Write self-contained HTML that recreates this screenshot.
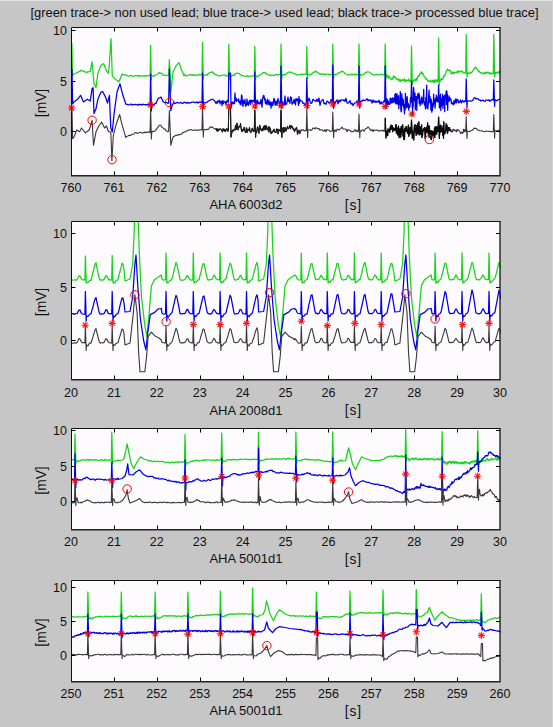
<!DOCTYPE html>
<html><head><meta charset="utf-8"><title>ECG</title>
<style>html,body{margin:0;padding:0;background:#c6c6c6;width:553px;height:727px;overflow:hidden}svg{display:block}text{font-family:"Liberation Sans",sans-serif}</style>
</head><body>
<svg width="553" height="727" viewBox="0 0 553 727" font-family="Liberation Sans, sans-serif" font-size="13" fill="#111"><defs><clipPath id="c0"><rect x="71" y="27" width="430" height="149"/></clipPath><clipPath id="c1"><rect x="71" y="221" width="430" height="159"/></clipPath><clipPath id="c2"><rect x="71" y="428" width="430" height="102"/></clipPath><clipPath id="c3"><rect x="71" y="580" width="430" height="102"/></clipPath></defs>
<rect width="553" height="727" fill="#c6c6c6"/>
<path d="M0 0.5H553" stroke="#e6e6e6" stroke-width="1"/><path d="M552.5 0V727" stroke="#d2d2d2" stroke-width="1"/>
<text transform="translate(284.50 17.10) scale(0.955 1)" text-anchor="middle" font-size="13.5">[green trace-&gt; non used lead; blue trace-&gt; used lead; black trace-&gt; processed blue trace]</text>
<rect x="71" y="27" width="429" height="148" fill="#fefbfe"/>
<g clip-path="url(#c0)" fill="none" stroke-width="1.25" stroke-linejoin="round">
<polyline points="71.0,62.0 71.9,43.4 72.6,76.0 73.2,74.5 75.8,73.3 81.5,70.4 86.3,72.3 90.2,71.3 92.1,61.7 94.0,83.8 96.0,87.6 97.9,73.2 100.8,65.5 103.7,63.6 106.5,71.3 108.5,73.2 109.4,63.6 111.0,38.6 112.3,76.1 115.2,79.0 119.0,81.8 121.9,74.2 125.8,75.1 126.0,75.7 127.0,75.4 128.0,76.0 129.0,76.2 130.0,75.6 131.0,75.4 132.0,75.8 133.0,76.5 134.0,76.3 135.0,75.5 136.0,75.7 137.0,75.5 138.0,75.5 139.0,76.4 140.0,75.6 141.0,76.1 142.0,75.9 143.0,75.6 144.0,76.3 145.0,75.6 146.0,76.2 147.0,75.5 148.0,75.9 149.0,75.7 150.0,75.7 150.1,76.0 150.6,45.3 151.4,80.0 151.7,76.0 152.0,76.3 153.0,75.7 154.0,76.3 155.0,75.2 156.0,75.0 157.0,74.8 158.0,73.7 159.0,72.4 160.0,73.4 161.0,73.0 162.0,73.8 163.0,75.2 164.0,75.1 165.0,75.3 166.0,75.1 167.0,75.2 168.0,75.7 168.6,75.5 169.4,59.7 171.0,91.5 173.0,72.0 176.0,66.0 179.0,62.6 181.5,70.0 184.0,75.8 184.0,74.0 185.0,74.9 186.0,75.8 187.0,75.7 188.0,75.4 189.0,75.1 190.0,74.7 191.0,74.6 192.0,75.7 193.0,74.8 194.0,75.4 195.0,74.8 196.0,75.5 197.0,75.2 198.0,74.8 199.0,74.6 200.0,75.3 201.0,74.5 202.0,74.7 202.0,75.0 202.5,42.4 203.3,79.0 203.6,75.1 204.0,75.5 205.0,75.2 206.0,74.7 207.0,75.3 208.0,74.0 209.0,73.0 210.0,72.5 211.0,72.2 212.0,71.8 213.0,72.5 214.0,73.5 215.0,74.5 216.0,74.5 217.0,75.0 218.0,75.8 219.0,75.9 220.0,75.6 221.0,75.6 222.0,75.5 223.0,75.0 224.0,74.9 225.0,74.9 226.0,76.0 227.0,75.8 228.0,76.1 228.3,75.6 228.8,44.3 229.6,79.6 229.9,75.6 230.0,75.8 231.0,75.6 232.0,75.8 233.0,75.2 234.0,75.6 235.0,73.9 236.0,73.6 237.0,73.2 238.0,73.3 239.0,73.5 240.0,74.2 241.0,75.1 242.0,75.9 243.0,75.5 244.0,76.0 245.0,76.4 246.0,76.4 247.0,75.8 248.0,76.3 249.0,76.4 250.0,76.1 251.0,76.1 252.0,75.8 253.0,76.0 254.0,76.0 254.3,75.8 254.8,46.3 255.6,79.8 255.9,75.8 256.0,75.9 257.0,76.3 258.0,76.1 259.0,75.7 260.0,74.8 261.0,74.5 262.0,73.5 263.0,72.6 264.0,72.9 265.0,72.4 266.0,73.9 267.0,73.8 268.0,75.0 269.0,75.1 270.0,74.9 271.0,75.4 272.0,75.2 273.0,75.3 274.0,75.6 275.0,74.8 276.0,74.4 277.0,74.7 278.0,75.2 279.0,74.6 280.0,74.5 280.5,74.9 281.0,44.0 281.8,78.8 282.1,74.8 283.0,74.7 284.0,75.1 285.0,74.3 286.0,74.3 287.0,73.1 288.0,72.5 289.0,72.2 290.0,72.0 291.0,72.3 292.0,72.4 293.0,73.4 294.0,73.7 295.0,73.8 296.0,74.4 297.0,74.9 298.0,74.9 299.0,74.8 300.0,75.0 301.0,74.2 302.0,74.1 303.0,74.4 304.0,74.2 305.0,74.2 306.0,74.4 306.3,74.5 306.8,46.4 307.6,78.5 307.9,74.5 308.0,74.5 309.0,74.3 310.0,74.8 311.0,74.8 312.0,73.8 313.0,72.7 314.0,71.8 315.0,72.1 316.0,71.0 317.0,72.2 318.0,72.8 319.0,73.2 320.0,74.4 321.0,73.7 322.0,74.0 323.0,74.4 324.0,73.9 325.0,74.9 326.0,74.2 327.0,74.1 328.0,74.0 329.0,74.7 330.0,74.4 331.0,74.7 332.0,74.7 332.3,74.5 332.8,44.0 333.6,78.5 333.9,74.5 334.0,75.0 335.0,74.7 336.0,74.0 337.0,74.2 338.0,73.4 339.0,72.6 340.0,72.3 341.0,71.9 342.0,71.1 343.0,71.6 344.0,72.5 345.0,73.7 346.0,74.0 347.0,74.5 348.0,74.8 349.0,74.4 350.0,74.8 351.0,75.0 352.0,74.0 353.0,75.0 354.0,74.8 355.0,74.1 356.0,74.4 357.0,74.7 358.0,75.0 358.5,74.5 359.0,44.0 359.8,78.5 360.1,74.5 361.0,74.9 362.0,74.8 363.0,74.8 364.0,73.9 365.0,73.5 366.0,72.2 367.0,72.1 368.0,71.9 369.0,72.0 370.0,72.8 371.0,73.0 372.0,74.4 373.0,74.8 374.0,75.0 375.0,74.5 376.0,74.8 377.0,74.3 378.0,75.0 379.0,74.9 380.0,74.3 381.0,74.0 382.0,74.4 383.0,74.6 384.0,74.8 384.7,74.5 385.2,44.0 386.0,78.7 386.3,75.5 386.5,74.4 387.0,77.0 387.5,75.5 388.0,76.3 388.5,78.0 389.0,76.4 389.5,76.7 390.0,78.0 390.5,78.8 391.0,79.2 391.5,78.8 392.0,79.5 392.5,77.8 393.0,78.8 393.5,75.9 394.0,76.2 394.5,77.2 395.0,76.6 395.5,78.2 396.0,78.4 396.5,78.4 397.0,79.8 397.5,79.3 398.0,78.9 398.5,79.3 399.0,80.9 399.5,81.2 400.0,79.2 400.5,81.2 401.0,81.6 401.5,80.3 402.0,80.4 402.5,79.3 403.0,80.3 403.5,80.2 404.0,80.6 404.5,78.8 405.0,81.7 405.5,80.3 406.0,80.0 406.5,81.2 407.0,80.5 407.5,80.3 408.0,80.9 408.5,79.0 409.0,80.5 409.5,80.1 410.0,81.7 410.5,81.7 411.0,79.7 411.0,80.4 411.5,46.0 412.3,84.4 412.6,80.4 413.0,81.4 413.5,81.6 414.0,80.3 414.5,79.8 415.0,79.3 415.5,80.4 416.0,81.1 416.5,78.4 417.0,79.8 417.5,76.9 418.0,76.7 418.5,75.9 419.0,76.3 419.5,74.3 420.0,73.6 420.5,73.8 421.0,71.9 421.5,73.7 422.0,72.1 422.5,73.8 423.0,73.7 423.5,74.4 424.0,76.3 424.5,76.9 425.0,77.5 425.5,78.3 426.0,79.3 426.5,78.6 427.0,79.1 427.5,80.7 428.0,80.9 428.5,80.7 429.0,81.7 429.5,81.1 430.0,81.8 430.5,80.0 431.0,81.5 431.5,81.8 432.0,82.0 432.5,80.3 433.0,80.3 433.5,82.1 434.0,80.0 434.5,82.4 435.0,82.1 435.5,79.8 436.0,80.1 436.5,81.6 437.0,80.2 437.5,79.7 438.0,82.0 438.1,81.0 438.6,38.0 439.4,85.0 439.7,81.0 440.0,80.7 440.5,81.0 441.0,78.5 441.5,78.5 442.0,79.4 442.5,79.5 443.0,79.1 443.5,75.8 444.0,76.2 444.5,76.2 445.0,74.5 445.5,74.2 446.0,71.8 446.5,70.6 447.0,69.9 447.5,69.1 448.0,70.2 448.5,70.3 449.0,70.8 449.5,69.9 450.0,70.4 450.5,70.8 451.0,73.1 451.5,73.8 452.0,73.8 452.5,71.9 453.0,71.9 453.5,73.7 454.0,72.7 454.5,73.2 455.0,72.3 455.5,72.4 456.0,72.4 456.5,72.1 457.0,72.3 457.5,71.0 458.0,72.2 458.5,72.3 459.0,71.0 459.5,71.4 460.0,72.0 460.5,71.3 461.0,71.0 461.5,71.0 462.0,71.8 462.5,71.0 463.0,72.9 463.5,72.8 464.0,72.8 464.5,73.2 465.0,72.9 465.5,72.5 465.7,72.8 466.2,34.6 467.0,77.0 467.3,72.9 467.5,73.5 468.0,72.5 468.5,73.7 469.0,73.4 469.5,73.4 470.0,73.3 470.5,72.3 471.0,73.0 471.5,72.6 472.0,71.8 472.5,71.4 473.0,70.7 473.5,69.4 474.0,69.4 474.5,67.6 475.0,67.9 475.5,68.0 476.0,67.2 476.5,68.2 477.0,69.3 477.5,69.8 478.0,69.7 478.5,71.7 479.0,71.7 479.5,71.5 480.0,72.5 480.5,72.6 481.0,72.7 481.5,72.6 482.0,73.8 482.5,73.2 483.0,73.3 483.5,73.5 484.0,73.9 484.5,72.1 485.0,73.2 485.5,73.5 486.0,72.5 486.5,72.8 487.0,72.1 487.5,72.4 488.0,72.8 488.5,72.2 489.0,72.5 489.5,73.8 490.0,73.1 490.5,73.0 491.0,73.9 491.5,73.1 492.0,74.0 492.5,73.3 493.0,73.6 493.3,73.0 493.8,34.6 494.6,77.0 494.9,73.0 495.0,72.1 495.5,73.8 496.0,72.3 496.5,72.9 497.0,72.3 497.5,72.8 498.0,72.9 498.5,71.7 499.0,73.2 499.5,71.9 500.0,71.7 501.0,70.9" stroke="#18d418"/><polyline points="71.0,86.0 72.0,69.3 72.6,104.0 73.8,102.0 77.7,99.2 80.6,95.3 83.5,102.0 87.3,99.2 90.2,101.1 92.1,88.6 93.1,87.6 94.0,113.6 96.0,108.8 97.9,99.2 100.8,92.4 102.7,91.5 105.6,97.2 107.5,103.0 109.4,95.3 110.8,128.0 112.3,131.8 114.2,112.6 117.1,91.5 120.0,83.8 122.9,95.3 125.8,104.0 126.0,104.1 127.0,104.3 128.0,104.6 129.0,105.0 130.0,104.6 131.0,103.9 132.0,105.1 133.0,104.5 134.0,104.7 135.0,104.3 136.0,104.6 137.0,104.6 138.0,105.2 139.0,104.2 140.0,104.9 141.0,104.3 142.0,105.1 143.0,104.2 144.0,104.5 145.0,104.7 146.0,105.1 147.0,104.3 148.0,104.9 149.0,104.5 150.0,104.7 150.1,105.0 150.6,74.0 151.4,110.9 151.7,104.8 152.0,105.5 153.0,104.6 154.0,105.1 155.0,103.4 156.0,103.5 157.0,101.0 158.0,98.8 159.0,98.0 160.0,97.7 161.0,97.1 162.0,99.2 163.0,101.6 164.0,102.2 165.0,102.7 166.0,102.5 167.0,102.6 168.0,103.4 168.6,103.0 169.4,69.0 170.8,110.7 172.5,104.0 174.0,103.3 174.0,102.0 175.0,103.4 176.0,103.1 177.0,102.4 178.0,102.9 179.0,102.8 180.0,103.0 181.0,102.4 182.0,103.4 183.0,103.3 184.0,102.2 185.0,102.4 186.0,103.2 187.0,102.3 188.0,103.3 189.0,102.6 190.0,102.8 191.0,102.8 192.0,102.1 193.0,102.2 194.0,102.1 195.0,102.7 196.0,102.7 197.0,101.8 198.0,103.0 199.0,102.2 200.0,101.9 201.0,102.2 202.0,103.0 202.0,102.3 202.5,73.0 203.3,108.3 203.6,102.2 204.0,102.4 205.0,102.8 206.0,102.8 207.0,102.2 208.0,101.2 209.0,100.7 210.0,100.3 211.0,99.6 212.0,99.3 213.0,99.4 214.0,100.3 215.0,101.4 215.5,102.4 216.0,103.5 216.5,102.5 217.0,101.6 217.5,103.2 218.0,100.8 218.5,101.7 219.0,100.7 219.5,100.2 220.0,103.9 220.5,101.3 221.0,102.0 221.5,101.3 222.0,105.6 222.5,100.8 223.0,100.7 223.5,103.6 224.0,102.1 224.5,102.1 225.0,101.4 225.5,102.2 226.0,104.8 226.5,101.4 227.0,101.8 227.5,100.3 228.0,100.4 228.3,102.1 228.8,73.0 230.5,73.0 231.0,108.1 232.3,102.0 232.5,102.9 233.0,103.7 233.5,102.2 234.0,102.3 234.5,103.7 235.0,93.0 235.5,100.3 236.0,97.8 236.5,101.5 237.0,99.9 237.5,100.4 238.0,100.5 238.5,98.8 239.0,102.3 239.5,101.0 240.0,103.9 240.5,101.0 241.0,105.0 241.5,94.9 242.0,96.5 242.5,103.3 243.0,106.4 243.5,100.5 244.0,103.5 244.5,102.0 245.0,99.3 245.5,106.2 246.0,105.2 246.5,105.5 247.0,99.0 247.5,104.5 248.0,102.4 248.5,105.5 249.0,102.7 249.5,100.4 250.0,100.8 250.5,104.3 251.0,100.0 251.5,100.5 252.0,102.6 252.5,100.7 253.0,101.1 253.5,100.5 254.0,101.8 254.3,102.2 254.8,72.0 255.6,108.2 255.9,102.2 256.0,101.4 256.5,104.8 257.0,100.2 257.5,100.2 258.0,104.0 258.5,102.2 259.0,102.5 259.5,104.0 260.0,103.8 260.5,102.1 261.0,99.4 261.5,104.2 262.0,107.2 262.5,99.6 263.0,97.4 263.5,95.3 264.0,95.7 264.5,99.9 265.0,98.4 265.5,103.6 266.0,101.0 266.5,104.2 267.0,101.4 267.5,99.1 268.0,104.6 268.5,101.4 269.0,100.3 269.5,104.8 270.0,104.6 270.5,102.2 271.0,108.1 271.5,104.0 272.0,102.0 272.5,105.6 273.0,104.8 273.5,101.0 274.0,98.4 274.5,99.5 275.0,104.6 275.5,105.2 276.0,101.2 276.5,101.8 277.0,105.2 277.5,101.3 278.0,98.6 278.5,100.8 279.0,102.1 279.5,104.0 280.0,106.9 280.5,100.9 280.5,102.4 281.0,66.0 281.8,108.4 282.1,102.4 282.5,101.7 283.0,105.5 283.5,103.9 284.0,105.2 284.5,101.3 285.0,96.0 285.5,104.5 286.0,103.6 286.5,104.2 287.0,102.3 287.5,99.7 288.0,97.1 288.5,101.4 289.0,101.1 289.5,100.0 290.0,103.3 290.5,96.8 291.0,97.6 291.5,97.7 292.0,104.2 292.5,103.7 293.0,103.1 293.5,101.3 294.0,99.5 294.5,103.1 295.0,100.2 295.5,104.9 296.0,98.3 296.5,100.8 297.0,99.5 297.5,98.9 298.0,100.8 298.5,105.3 299.0,96.5 299.5,103.0 300.0,99.7 301.0,100.9 302.0,101.0 303.0,103.5 304.0,103.2 305.0,104.9 306.0,103.8 306.3,102.5 306.8,78.0 307.6,108.5 307.9,102.5 308.0,101.7 309.0,98.2 310.0,101.2 311.0,103.4 312.0,102.7 313.0,99.1 314.0,100.2 315.0,100.7 316.0,101.5 317.0,99.1 318.0,101.6 319.0,98.0 320.0,105.4 321.0,101.4 322.0,100.3 323.0,99.4 324.0,103.8 325.0,103.1 326.0,104.4 327.0,101.1 328.0,101.5 329.0,103.1 330.0,103.2 331.0,99.6 332.0,101.5 332.3,102.3 332.8,65.0 333.6,108.3 333.9,102.3 334.0,101.9 335.0,103.9 336.0,101.1 337.0,99.8 338.0,103.9 339.0,100.1 340.0,101.9 341.0,99.9 342.0,99.9 343.0,100.6 344.0,99.7 345.0,101.4 346.0,98.3 347.0,102.9 348.0,103.2 349.0,102.3 350.0,100.6 351.0,104.1 352.0,103.2 353.0,105.6 354.0,103.8 355.0,102.9 356.0,102.5 357.0,100.8 358.0,104.0 358.5,102.2 359.0,66.0 359.8,108.2 360.1,102.2 361.0,101.0 362.0,101.3 363.0,99.8 364.0,100.4 365.0,100.6 366.0,99.9 367.0,98.7 368.0,100.8 369.0,99.7 370.0,100.6 371.0,100.0 372.0,103.0 373.0,99.9 374.0,102.4 375.0,100.7 376.0,102.5 377.0,101.2 378.0,102.2 379.0,100.2 380.0,104.1 381.0,101.7 382.0,103.9 383.0,102.7 384.0,100.7 384.7,102.0 385.2,66.0 386.0,108.0 386.3,102.0 386.5,98.8 386.8,101.7 387.1,99.0 387.4,105.2 387.7,104.7 388.0,100.9 388.3,101.7 388.6,103.8 388.9,104.5 389.2,103.2 389.5,104.3 389.8,103.2 390.1,98.7 390.4,98.0 390.7,102.8 391.0,103.3 391.3,98.6 391.6,100.3 391.9,102.7 392.2,102.4 392.5,101.6 392.8,97.6 393.1,102.7 393.4,98.4 393.7,99.3 394.0,99.1 394.3,100.3 394.6,101.8 394.9,94.3 395.2,102.8 395.5,93.6 395.8,98.5 396.1,103.8 396.4,102.4 396.7,96.2 397.0,93.5 397.3,104.2 397.6,103.0 397.9,96.7 398.2,102.8 398.5,95.7 398.8,108.8 399.1,100.9 399.4,104.5 399.7,104.5 400.0,98.6 400.3,91.6 400.6,103.6 400.9,110.1 401.2,111.9 401.5,111.0 401.8,93.7 402.1,100.5 402.4,98.2 402.7,105.3 403.0,100.8 403.3,99.5 403.6,107.3 403.9,104.1 404.2,110.3 404.5,113.8 404.8,104.4 405.1,109.9 405.4,93.4 405.7,102.5 406.0,98.2 406.3,108.0 406.6,97.7 406.9,107.3 407.2,96.5 407.5,104.7 407.8,106.9 408.1,106.1 408.4,103.6 408.7,110.2 409.0,105.7 409.3,107.7 409.6,107.7 409.9,106.3 410.2,103.9 410.5,97.5 410.8,97.9 411.0,102.0 411.5,81.0 412.3,108.0 412.6,102.0 412.6,115.2 412.9,101.8 413.2,106.8 413.5,87.5 413.8,89.5 414.1,95.2 414.4,96.4 414.7,101.1 415.0,93.2 415.3,109.8 415.6,103.3 415.9,99.2 416.2,96.3 416.5,101.7 416.8,110.4 417.1,99.4 417.4,98.3 417.7,93.8 418.0,95.1 418.3,98.3 418.6,95.8 418.9,93.1 419.2,103.5 419.5,95.0 419.8,102.1 420.1,105.8 420.4,100.5 420.7,103.0 421.0,101.5 421.3,101.6 421.6,97.1 421.9,104.1 422.2,101.3 422.5,103.0 422.8,101.6 423.1,98.1 423.4,96.4 423.7,89.3 424.0,103.1 424.3,101.6 424.6,105.1 424.9,103.1 425.2,105.4 425.5,109.0 425.8,97.3 426.1,97.3 426.4,97.7 426.7,85.1 427.0,108.0 427.3,104.6 427.6,108.6 427.9,108.9 428.2,104.2 428.5,101.0 428.8,94.0 429.1,90.1 429.4,102.1 429.7,100.3 430.0,96.4 430.3,103.8 430.6,99.3 430.9,110.1 431.2,99.2 431.5,104.4 431.8,112.2 432.1,106.0 432.4,110.5 432.7,104.1 433.0,102.2 433.3,106.6 433.6,94.1 433.9,104.0 434.2,98.5 434.5,103.3 434.8,102.0 435.1,108.1 435.4,102.7 435.7,97.9 436.0,101.5 436.3,95.1 436.6,101.4 436.9,100.3 437.2,99.1 437.5,101.6 437.8,96.8 438.1,102.0 438.6,85.0 439.4,108.0 439.7,102.0 439.9,103.1 440.2,97.4 440.5,94.2 440.8,110.6 441.1,102.7 441.4,105.9 441.7,99.6 442.0,97.8 442.3,104.9 442.6,94.2 442.9,108.5 443.2,98.2 443.5,103.1 443.8,96.4 444.1,104.9 444.4,95.4 444.7,111.7 445.0,99.0 445.3,96.8 445.6,96.0 445.9,94.2 446.2,91.2 446.5,104.5 446.8,90.8 447.1,96.1 447.4,94.4 447.7,110.3 448.0,98.3 448.5,101.3 449.0,95.8 449.5,101.1 450.0,97.9 450.5,98.8 451.0,99.4 451.5,103.7 452.0,103.9 452.5,102.9 453.0,103.8 453.5,104.8 454.0,100.6 454.5,103.8 455.0,102.9 455.5,99.0 456.0,100.9 456.5,102.8 457.0,99.0 457.5,99.8 458.0,99.8 458.5,102.9 459.0,102.7 459.5,101.5 460.0,101.3 460.5,99.9 461.0,102.6 461.5,102.8 462.0,102.0 462.5,100.1 463.0,100.9 464.0,102.1 465.0,100.7 465.7,101.4 466.2,79.0 467.0,107.4 467.3,101.4 468.0,100.8 469.0,101.0 470.0,100.8 471.0,101.2 472.0,100.7 473.0,100.1 474.0,98.0 475.0,97.6 476.0,98.8 477.0,98.6 478.0,98.8 479.0,100.2 480.0,100.0 481.0,101.0 482.0,100.5 483.0,100.0 484.0,101.2 485.0,101.4 486.0,99.9 487.0,100.0 488.0,100.5 489.0,99.8 490.0,101.3 491.0,100.3 492.0,99.5 493.0,99.7 493.3,100.3 493.8,80.0 494.6,106.3 494.9,100.2 495.0,99.7 496.0,100.4 497.0,100.8 498.0,99.6 499.0,99.5 500.0,98.7" stroke="#0000e8"/><polyline points="71.0,118.0 72.0,108.8 72.6,138.6 73.8,137.6 76.7,130.0 79.6,131.8 81.5,128.0 85.4,132.8 89.2,130.0 92.1,120.3 93.5,145.3 96.0,131.8 98.8,126.0 101.7,122.2 104.6,128.0 106.5,126.0 108.5,131.8 110.8,131.8 111.9,160.7 113.3,135.7 116.2,124.2 119.6,114.5 121.9,124.2 125.8,137.6 126.0,136.7 127.0,136.2 128.0,136.0 129.0,135.2 130.0,135.4 131.0,135.3 132.0,134.2 133.0,134.2 134.0,134.0 135.0,132.5 136.0,132.5 137.0,133.2 138.0,133.2 139.0,132.9 140.0,132.3 141.0,132.5 142.0,133.0 143.0,132.9 144.0,132.8 145.0,132.0 146.0,132.7 147.0,132.0 148.0,132.4 149.0,131.6 150.0,132.6 150.1,132.0 150.6,108.8 151.4,138.9 151.7,131.8 152.0,132.0 153.0,131.2 154.0,131.4 155.0,130.9 156.0,130.0 157.0,128.4 158.0,127.2 159.0,125.5 160.0,125.0 161.0,125.4 162.0,127.3 163.0,127.9 164.0,128.9 165.0,129.1 166.0,130.6 167.0,131.2 168.0,131.8 168.6,131.0 169.4,110.7 170.8,145.3 173.0,137.0 176.0,135.3 176.0,135.5 177.0,135.1 178.0,135.3 179.0,134.5 180.0,134.8 181.0,134.0 182.0,134.0 183.0,132.4 184.0,132.2 185.0,131.8 186.0,131.8 187.0,130.6 188.0,130.0 189.0,130.2 190.0,129.8 191.0,129.5 192.0,130.0 193.0,130.5 194.0,130.3 195.0,129.7 196.0,130.3 197.0,130.5 198.0,129.8 199.0,130.2 200.0,129.9 201.0,129.8 202.0,129.8 202.0,130.1 202.5,107.0 203.3,137.1 203.6,130.1 204.0,129.9 205.0,129.5 206.0,129.8 207.0,129.2 208.0,129.6 209.0,128.6 210.0,127.1 211.0,127.5 212.0,126.8 213.0,127.7 214.0,128.6 215.0,128.7 215.5,128.9 216.0,129.5 216.5,128.7 217.0,131.2 217.5,128.8 218.0,131.2 218.5,129.2 219.0,129.5 219.5,129.8 220.0,128.6 220.5,128.9 221.0,129.7 221.5,130.0 222.0,131.4 222.5,131.8 223.0,128.7 223.5,130.3 224.0,128.9 224.5,131.2 225.0,129.6 225.5,131.5 226.0,130.3 226.5,128.9 227.0,128.5 227.5,129.3 228.0,131.4 228.3,130.2 228.8,108.0 230.5,108.0 231.0,137.2 232.3,130.1 232.5,131.5 233.0,130.0 233.5,131.1 234.0,129.3 234.5,129.5 235.0,130.2 235.5,125.2 236.0,129.5 236.5,129.2 237.0,123.0 237.5,125.9 238.0,130.0 238.5,128.5 239.0,126.1 239.5,126.7 240.0,127.0 240.5,123.4 241.0,127.6 241.5,130.7 242.0,131.9 242.5,129.3 243.0,130.3 243.5,130.2 244.0,127.3 244.5,127.6 245.0,131.9 245.5,132.2 246.0,132.0 246.5,127.7 247.0,132.7 247.5,129.3 248.0,129.2 248.5,129.9 249.0,130.7 249.5,127.4 250.0,131.3 250.5,132.4 251.0,132.4 251.5,130.9 252.0,128.5 252.5,128.3 253.0,131.2 253.5,130.1 254.0,131.7 254.3,130.3 254.8,110.0 255.6,137.3 255.9,130.3 256.0,130.5 256.5,133.0 257.0,129.9 257.5,126.8 258.0,128.3 258.5,131.3 259.0,133.3 259.5,125.4 260.0,125.5 260.5,130.0 261.0,128.9 261.5,130.0 262.0,131.0 262.5,128.1 263.0,130.5 263.5,126.6 264.0,126.1 264.5,129.9 265.0,125.3 265.5,129.3 266.0,129.4 266.5,125.8 267.0,129.6 267.5,130.0 268.0,128.9 268.5,126.8 269.0,132.1 269.5,126.9 270.0,128.7 270.5,128.8 271.0,133.7 271.5,132.0 272.0,133.1 272.5,131.6 273.0,130.8 273.5,131.6 274.0,129.0 274.5,132.0 275.0,131.9 275.5,132.1 276.0,132.7 276.5,128.9 277.0,129.6 277.5,129.1 278.0,134.0 278.5,129.4 279.0,130.0 279.5,129.9 280.0,131.4 280.5,131.7 280.5,130.4 281.0,110.0 281.8,137.4 282.1,130.4 282.5,128.3 283.0,127.8 283.5,132.5 284.0,127.4 284.5,132.0 285.0,129.1 285.5,127.6 286.0,131.2 286.5,129.3 287.0,129.2 287.5,126.2 288.0,128.0 288.5,128.8 289.0,128.0 289.5,127.3 290.0,125.2 290.5,128.9 291.0,125.6 291.5,125.9 292.0,127.7 292.5,126.5 293.0,129.5 293.5,129.9 294.0,128.8 294.5,131.7 295.0,130.5 295.5,129.5 296.0,128.2 296.5,127.3 297.0,129.6 297.5,134.4 298.0,132.8 298.5,131.4 299.0,130.0 299.5,133.3 300.0,133.7 301.0,129.7 302.0,130.7 303.0,129.5 304.0,130.7 305.0,131.0 306.0,130.0 306.3,130.5 306.8,109.0 307.6,137.5 307.9,130.5 308.0,130.3 309.0,129.8 310.0,129.7 311.0,130.5 312.0,129.6 313.0,128.1 314.0,128.0 315.0,128.9 316.0,127.5 317.0,128.4 318.0,128.6 319.0,128.5 320.0,130.4 321.0,129.7 322.0,129.7 323.0,130.9 324.0,131.1 325.0,129.5 326.0,131.7 327.0,129.5 328.0,129.9 329.0,130.3 330.0,131.4 331.0,131.3 332.0,131.3 332.3,130.7 332.8,112.0 333.6,137.7 333.9,130.7 334.0,131.7 335.0,129.8 336.0,131.7 337.0,129.3 338.0,129.2 339.0,130.0 340.0,129.2 341.0,128.3 342.0,127.1 343.0,129.0 344.0,129.0 345.0,129.0 346.0,129.3 347.0,131.8 348.0,129.6 349.0,130.1 350.0,130.4 351.0,131.7 352.0,131.6 353.0,131.6 354.0,131.1 355.0,129.6 356.0,131.4 357.0,130.1 358.0,131.9 358.5,130.8 359.0,114.0 359.8,137.8 360.1,130.8 361.0,131.4 362.0,130.2 363.0,129.7 364.0,131.2 365.0,129.5 366.0,128.4 367.0,128.3 368.0,126.8 369.0,128.0 370.0,129.3 371.0,130.6 372.0,129.4 373.0,131.6 374.0,129.9 375.0,130.2 376.0,130.5 377.0,130.1 378.0,130.0 379.0,131.3 380.0,130.7 381.0,130.2 382.0,131.0 383.0,130.1 384.0,131.4 384.7,131.0 385.2,118.0 386.0,138.0 386.3,131.0 386.5,131.6 386.8,131.4 387.1,135.4 387.4,133.7 387.7,135.7 388.0,128.8 388.3,130.3 388.6,130.9 388.9,129.6 389.2,130.0 389.5,129.9 389.8,132.1 390.1,127.2 390.4,129.0 390.7,129.1 391.0,125.0 391.3,129.5 391.6,125.9 391.9,126.6 392.2,125.6 392.5,127.7 392.8,131.8 393.1,127.7 393.4,129.6 393.7,129.0 394.0,130.0 394.3,128.7 394.6,130.5 394.9,128.3 395.2,130.3 395.5,127.3 395.8,125.2 396.1,124.5 396.4,133.2 396.7,129.5 397.0,128.1 397.3,131.0 397.6,134.9 397.9,132.6 398.2,128.2 398.5,126.1 398.8,130.6 399.1,137.7 399.4,133.8 399.7,129.1 400.0,132.6 400.3,128.8 400.6,137.3 400.9,134.8 401.2,126.4 401.5,132.9 401.8,130.0 402.1,130.5 402.4,127.0 402.7,124.9 403.0,136.2 403.3,129.7 403.6,132.4 403.9,139.6 404.2,132.6 404.5,139.5 404.8,128.2 405.1,129.2 405.4,128.5 405.7,131.2 406.0,126.5 406.3,128.2 406.6,126.7 406.9,131.1 407.2,130.0 407.5,133.4 407.8,130.3 408.1,132.3 408.4,125.1 408.7,136.4 409.0,135.1 409.3,129.6 409.6,133.4 409.9,127.5 410.2,133.7 410.5,133.6 410.8,127.6 411.0,131.2 411.5,120.0 412.3,138.2 412.6,131.2 412.6,132.8 412.9,131.9 413.2,136.4 413.5,134.2 413.8,140.0 414.1,130.0 414.4,125.7 414.7,129.4 415.0,124.5 415.3,131.8 415.6,128.1 415.9,131.1 416.2,135.4 416.5,125.6 416.8,134.5 417.1,130.4 417.4,127.3 417.7,123.5 418.0,133.4 418.3,124.9 418.6,131.7 418.9,121.8 419.2,135.0 419.5,134.5 419.8,132.4 420.1,126.5 420.4,131.0 420.7,134.5 421.0,132.0 421.3,133.9 421.6,124.9 421.9,137.5 422.2,130.9 422.5,135.8 422.8,131.9 423.1,131.1 423.4,128.8 423.7,130.3 424.0,130.2 424.3,128.7 424.6,127.5 424.9,131.6 425.2,138.7 425.5,137.3 425.8,129.1 426.1,128.5 426.4,127.3 426.7,132.2 427.0,129.0 427.3,128.6 427.6,122.9 427.9,130.9 428.2,133.8 428.5,129.1 428.8,125.8 429.1,137.3 429.4,126.2 429.7,134.8 430.0,131.2 430.3,133.3 430.6,130.6 430.9,139.0 431.2,132.0 431.5,139.6 431.8,130.8 432.1,135.1 432.4,133.4 432.7,135.7 433.0,131.3 433.3,131.7 433.6,131.8 433.9,131.6 434.2,137.2 434.5,127.8 434.8,137.4 435.1,127.8 435.4,126.6 435.7,128.1 436.0,134.2 436.3,126.8 436.6,134.1 436.9,131.4 437.2,128.6 437.5,131.4 437.8,126.3 438.1,131.4 438.6,117.0 439.4,138.4 439.7,131.4 439.9,126.2 440.2,132.6 440.5,125.0 440.8,130.8 441.1,125.9 441.4,131.5 441.7,130.6 442.0,131.1 442.3,128.4 442.6,134.1 442.9,135.5 443.2,125.6 443.5,138.5 443.8,121.8 444.1,130.9 444.4,134.0 444.7,133.0 445.0,133.1 445.3,131.7 445.6,132.3 445.9,127.5 446.2,123.7 446.5,129.9 446.8,127.4 447.1,125.4 447.4,133.2 447.7,132.7 448.0,128.7 448.5,127.7 449.0,130.4 449.5,127.6 450.0,130.3 450.5,129.8 451.0,131.3 451.5,131.5 452.0,132.2 452.5,129.7 453.0,131.2 453.5,129.3 454.0,129.6 454.5,129.9 455.0,130.6 455.5,130.3 456.0,131.2 456.5,131.9 457.0,129.3 457.5,130.7 458.0,129.7 458.5,130.2 459.0,130.6 459.5,131.3 460.0,131.5 460.5,133.7 461.0,132.9 461.5,132.2 462.0,132.4 462.5,133.4 463.0,132.6 463.5,129.2 464.0,132.0 464.5,129.6 465.0,131.3 465.7,131.4 466.2,116.7 467.0,138.4 467.3,131.3 468.0,131.3 469.0,131.2 470.0,131.7 471.0,130.5 472.0,130.5 473.0,129.7 474.0,128.1 475.0,128.6 476.0,128.2 477.0,129.4 478.0,130.2 479.0,130.3 480.0,130.8 481.0,131.0 482.0,130.6 483.0,131.3 484.0,131.5 485.0,131.8 486.0,131.1 487.0,131.2 488.0,131.3 489.0,131.5 490.0,131.3 491.0,131.7 492.0,131.5 493.0,131.7 493.3,131.1 493.8,114.5 494.6,138.1 494.9,131.0 495.0,131.1 496.0,130.6 497.0,131.0 498.0,130.8 499.0,130.1 500.0,129.7" stroke="#383838" stroke-width="1.1"/><polyline points="215.0,128.7 215.5,128.9 216.0,129.5 216.5,128.7 217.0,131.2 217.5,128.8 218.0,131.2 218.5,129.2 219.0,129.5 219.5,129.8 220.0,128.6 220.5,128.9 221.0,129.7 221.5,130.0 222.0,131.4 222.5,131.8 223.0,128.7 223.5,130.3 224.0,128.9 224.5,131.2 225.0,129.6 225.5,131.5 226.0,130.3 226.5,128.9 227.0,128.5 227.5,129.3 228.0,131.4 228.3,130.2 228.8,108.0 230.5,108.0 231.0,137.2 232.3,130.1 232.5,131.5 233.0,130.0 233.5,131.1 234.0,129.3 234.5,129.5 235.0,130.2 235.5,125.2 236.0,129.5 236.5,129.2 237.0,123.0 237.5,125.9 238.0,130.0 238.5,128.5 239.0,126.1 239.5,126.7 240.0,127.0 240.5,123.4 241.0,127.6 241.5,130.7 242.0,131.9 242.5,129.3 243.0,130.3 243.5,130.2 244.0,127.3 244.5,127.6 245.0,131.9 245.5,132.2 246.0,132.0 246.5,127.7 247.0,132.7 247.5,129.3 248.0,129.2 248.5,129.9 249.0,130.7 249.5,127.4 250.0,131.3 250.5,132.4 251.0,132.4 251.5,130.9 252.0,128.5 252.5,128.3 253.0,131.2 253.5,130.1 254.0,131.7 254.3,130.3 254.8,110.0 255.6,137.3 255.9,130.3 256.0,130.5 256.5,133.0 257.0,129.9 257.5,126.8 258.0,128.3 258.5,131.3 259.0,133.3 259.5,125.4 260.0,125.5 260.5,130.0 261.0,128.9 261.5,130.0 262.0,131.0 262.5,128.1 263.0,130.5 263.5,126.6 264.0,126.1 264.5,129.9 265.0,125.3 265.5,129.3 266.0,129.4 266.5,125.8 267.0,129.6 267.5,130.0 268.0,128.9 268.5,126.8 269.0,132.1 269.5,126.9 270.0,128.7 270.5,128.8 271.0,133.7 271.5,132.0 272.0,133.1 272.5,131.6 273.0,130.8 273.5,131.6 274.0,129.0 274.5,132.0 275.0,131.9 275.5,132.1 276.0,132.7 276.5,128.9 277.0,129.6 277.5,129.1 278.0,134.0 278.5,129.4 279.0,130.0 279.5,129.9 280.0,131.4 280.5,131.7 280.5,130.4 281.0,110.0 281.8,137.4 282.1,130.4 282.5,128.3 283.0,127.8 283.5,132.5 284.0,127.4 284.5,132.0 285.0,129.1 285.5,127.6 286.0,131.2 286.5,129.3 287.0,129.2 287.5,126.2 288.0,128.0 288.5,128.8 289.0,128.0 289.5,127.3 290.0,125.2 290.5,128.9 291.0,125.6 291.5,125.9 292.0,127.7 292.5,126.5 293.0,129.5 293.5,129.9 294.0,128.8 294.5,131.7 295.0,130.5 295.5,129.5 296.0,128.2 296.5,127.3 297.0,129.6 297.5,134.4 298.0,132.8 298.5,131.4 299.0,130.0 299.5,133.3 300.0,133.7" stroke="#1a1a1a" stroke-width="1.0"/><polyline points="385.2,118.0 386.0,138.0 386.3,131.0 386.5,131.6 386.8,131.4 387.1,135.4 387.4,133.7 387.7,135.7 388.0,128.8 388.3,130.3 388.6,130.9 388.9,129.6 389.2,130.0 389.5,129.9 389.8,132.1 390.1,127.2 390.4,129.0 390.7,129.1 391.0,125.0 391.3,129.5 391.6,125.9 391.9,126.6 392.2,125.6 392.5,127.7 392.8,131.8 393.1,127.7 393.4,129.6 393.7,129.0 394.0,130.0 394.3,128.7 394.6,130.5 394.9,128.3 395.2,130.3 395.5,127.3 395.8,125.2 396.1,124.5 396.4,133.2 396.7,129.5 397.0,128.1 397.3,131.0 397.6,134.9 397.9,132.6 398.2,128.2 398.5,126.1 398.8,130.6 399.1,137.7 399.4,133.8 399.7,129.1 400.0,132.6 400.3,128.8 400.6,137.3 400.9,134.8 401.2,126.4 401.5,132.9 401.8,130.0 402.1,130.5 402.4,127.0 402.7,124.9 403.0,136.2 403.3,129.7 403.6,132.4 403.9,139.6 404.2,132.6 404.5,139.5 404.8,128.2 405.1,129.2 405.4,128.5 405.7,131.2 406.0,126.5 406.3,128.2 406.6,126.7 406.9,131.1 407.2,130.0 407.5,133.4 407.8,130.3 408.1,132.3 408.4,125.1 408.7,136.4 409.0,135.1 409.3,129.6 409.6,133.4 409.9,127.5 410.2,133.7 410.5,133.6 410.8,127.6 411.0,131.2 411.5,120.0 412.3,138.2 412.6,131.2 412.6,132.8 412.9,131.9 413.2,136.4 413.5,134.2 413.8,140.0 414.1,130.0 414.4,125.7 414.7,129.4 415.0,124.5 415.3,131.8 415.6,128.1 415.9,131.1 416.2,135.4 416.5,125.6 416.8,134.5 417.1,130.4 417.4,127.3 417.7,123.5 418.0,133.4 418.3,124.9 418.6,131.7 418.9,121.8 419.2,135.0 419.5,134.5 419.8,132.4 420.1,126.5 420.4,131.0 420.7,134.5 421.0,132.0 421.3,133.9 421.6,124.9 421.9,137.5 422.2,130.9 422.5,135.8 422.8,131.9 423.1,131.1 423.4,128.8 423.7,130.3 424.0,130.2 424.3,128.7 424.6,127.5 424.9,131.6 425.2,138.7 425.5,137.3 425.8,129.1 426.1,128.5 426.4,127.3 426.7,132.2 427.0,129.0 427.3,128.6 427.6,122.9 427.9,130.9 428.2,133.8 428.5,129.1 428.8,125.8 429.1,137.3 429.4,126.2 429.7,134.8 430.0,131.2 430.3,133.3 430.6,130.6 430.9,139.0 431.2,132.0 431.5,139.6 431.8,130.8 432.1,135.1 432.4,133.4 432.7,135.7 433.0,131.3 433.3,131.7 433.6,131.8 433.9,131.6 434.2,137.2 434.5,127.8 434.8,137.4 435.1,127.8 435.4,126.6 435.7,128.1 436.0,134.2 436.3,126.8 436.6,134.1 436.9,131.4 437.2,128.6 437.5,131.4 437.8,126.3 438.1,131.4 438.6,117.0 439.4,138.4 439.7,131.4 439.9,126.2 440.2,132.6 440.5,125.0 440.8,130.8 441.1,125.9 441.4,131.5 441.7,130.6 442.0,131.1 442.3,128.4 442.6,134.1 442.9,135.5 443.2,125.6 443.5,138.5 443.8,121.8 444.1,130.9 444.4,134.0 444.7,133.0 445.0,133.1 445.3,131.7 445.6,132.3 445.9,127.5 446.2,123.7 446.5,129.9 446.8,127.4 447.1,125.4 447.4,133.2 447.7,132.7 448.0,128.7 448.5,127.7 449.0,130.4 449.5,127.6 450.0,130.3 450.5,129.8 451.0,131.3 451.5,131.5" stroke="#0a0a0a" stroke-width="1.2"/>
</g>
<path d="M71.5 175.7V27.5H500.6" fill="none" stroke="#111" stroke-width="1"/>
<path d="M500.0 27.0V175.7H71.0" fill="none" stroke="#222" stroke-width="1.4"/>
<path d="M114.5 175.5v-4M114.5 27.5v4M157.5 175.5v-4M157.5 27.5v4M200.5 175.5v-4M200.5 27.5v4M243.5 175.5v-4M243.5 27.5v4M286.5 175.5v-4M286.5 27.5v4M328.5 175.5v-4M328.5 27.5v4M371.5 175.5v-4M371.5 27.5v4M414.5 175.5v-4M414.5 27.5v4M457.5 175.5v-4M457.5 27.5v4M71.5 30.5h4M500.0 30.5h-4M71.5 81.5h4M500.0 81.5h-4M71.5 131.5h4M500.0 131.5h-4" stroke="#000" stroke-width="1" fill="none"/>
<g fill="none"><path d="M68.1 108.0h7.2M71.7 104.4v7.2M69.2 105.5l5.0 5.0M69.2 110.5l5.0 -5.0M147.0 105.0h7.2M150.6 101.4v7.2M148.1 102.5l5.0 5.0M148.1 107.5l5.0 -5.0M198.9 106.5h7.2M202.5 102.9v7.2M200.0 104.0l5.0 5.0M200.0 109.0l5.0 -5.0M225.2 106.0h7.2M228.8 102.4v7.2M226.3 103.5l5.0 5.0M226.3 108.5l5.0 -5.0M251.2 106.0h7.2M254.8 102.4v7.2M252.3 103.5l5.0 5.0M252.3 108.5l5.0 -5.0M277.4 105.6h7.2M281.0 102.0v7.2M278.5 103.1l5.0 5.0M278.5 108.1l5.0 -5.0M303.2 105.5h7.2M306.8 101.9v7.2M304.3 103.0l5.0 5.0M304.3 108.0l5.0 -5.0M329.2 104.0h7.2M332.8 100.4v7.2M330.3 101.5l5.0 5.0M330.3 106.5l5.0 -5.0M355.4 104.0h7.2M359.0 100.4v7.2M356.5 101.5l5.0 5.0M356.5 106.5l5.0 -5.0M381.6 106.5h7.2M385.2 102.9v7.2M382.7 104.0l5.0 5.0M382.7 109.0l5.0 -5.0M408.4 114.0h7.2M412.0 110.4v7.2M409.5 111.5l5.0 5.0M409.5 116.5l5.0 -5.0M462.7 111.4h7.2M466.3 107.8v7.2M463.8 108.9l5.0 5.0M463.8 113.9l5.0 -5.0" stroke="#ff0000" stroke-width="1.1" opacity="0.9"/><circle cx="92.1" cy="120.3" r="4.2" stroke="#ff0000" stroke-width="1"/><circle cx="112.0" cy="159.7" r="4.2" stroke="#ff0000" stroke-width="1"/><circle cx="169.4" cy="102.5" r="4.2" stroke="#ff0000" stroke-width="1"/><circle cx="429.4" cy="139.5" r="4.2" stroke="#ff0000" stroke-width="1"/></g>
<text transform="translate(71.00 191.70) scale(0.93 1)" text-anchor="middle" font-size="13.5">760</text>
<text transform="translate(113.90 191.70) scale(0.93 1)" text-anchor="middle" font-size="13.5">761</text>
<text transform="translate(156.80 191.70) scale(0.93 1)" text-anchor="middle" font-size="13.5">762</text>
<text transform="translate(199.70 191.70) scale(0.93 1)" text-anchor="middle" font-size="13.5">763</text>
<text transform="translate(242.60 191.70) scale(0.93 1)" text-anchor="middle" font-size="13.5">764</text>
<text transform="translate(285.50 191.70) scale(0.93 1)" text-anchor="middle" font-size="13.5">765</text>
<text transform="translate(328.40 191.70) scale(0.93 1)" text-anchor="middle" font-size="13.5">766</text>
<text transform="translate(371.30 191.70) scale(0.93 1)" text-anchor="middle" font-size="13.5">767</text>
<text transform="translate(414.20 191.70) scale(0.93 1)" text-anchor="middle" font-size="13.5">768</text>
<text transform="translate(457.10 191.70) scale(0.93 1)" text-anchor="middle" font-size="13.5">769</text>
<text transform="translate(500.00 191.70) scale(0.93 1)" text-anchor="middle" font-size="13.5">770</text>
<text transform="translate(67.00 35.20) scale(0.93 1)" text-anchor="end" font-size="13.5">10</text>
<text transform="translate(67.00 86.20) scale(0.93 1)" text-anchor="end" font-size="13.5">5</text>
<text transform="translate(67.00 136.20) scale(0.93 1)" text-anchor="end" font-size="13.5">0</text>
<text transform="translate(209.40 209.00) scale(0.965 1)" font-size="13.5">AHA 6003d2</text>
<text transform="translate(344.80 209.50) scale(1.0 1)" font-size="13.8" letter-spacing="0.9">[s]</text>
<text transform="translate(46.3 103.0) rotate(-90)" text-anchor="middle" font-size="13.8">[mV]</text>
<rect x="71" y="221" width="429" height="158" fill="#fefbfe"/>
<g clip-path="url(#c1)" fill="none" stroke-width="1.25" stroke-linejoin="round">
<polyline points="71.0,279.7 72.0,280.1 73.0,280.1 74.0,280.0 75.0,279.8 76.0,280.2 77.0,279.8 78.0,278.0 79.0,275.8 80.0,275.9 81.0,278.1 82.0,279.6 83.0,280.0 84.0,279.7 84.9,280.0 85.4,256.0 86.2,283.0 86.5,281.4 87.0,282.2 88.0,282.4 89.0,281.2 90.0,280.2 91.0,280.3 92.0,276.4 93.0,272.0 94.0,268.2 95.0,264.3 96.0,262.6 97.0,268.1 98.0,272.6 99.0,277.3 100.0,280.2 101.0,279.7 102.0,280.3 103.0,279.9 104.0,279.4 105.0,277.4 106.0,275.5 107.0,276.3 108.0,278.4 109.0,280.1 110.0,279.7 111.0,280.2 111.7,280.0 112.2,255.5 113.0,283.0 113.3,281.4 114.0,283.0 115.0,282.5 116.0,280.8 117.0,280.1 118.0,279.7 119.0,275.2 120.0,271.5 121.0,267.7 122.0,263.2 123.0,264.2 124.0,269.0 125.0,281.0 130.0,279.0 132.7,264.0 134.2,231.0 134.9,205.0 137.5,200.0 138.2,220.0 139.3,253.0 141.5,297.0 144.8,325.6 147.0,336.6 149.2,312.4 151.4,286.0 154.7,279.4 158.0,277.2 161.3,275.0 162.0,279.1 163.0,280.1 164.0,279.9 165.0,279.8 165.5,279.9 166.0,253.0 166.8,283.0 167.1,281.3 168.0,282.6 169.0,281.6 170.0,280.5 171.0,280.1 172.0,278.7 173.0,274.9 174.0,270.3 175.0,266.4 176.0,262.4 177.0,264.7 178.0,269.4 179.0,274.2 180.0,279.3 181.0,280.2 182.0,280.2 183.0,280.1 184.0,279.8 185.0,279.2 186.0,278.0 187.0,275.5 188.0,276.4 189.0,278.1 190.0,279.4 191.0,280.1 192.0,280.1 192.8,279.9 193.3,253.0 194.1,283.0 194.4,281.3 195.0,282.4 196.0,282.5 197.0,280.9 198.0,279.8 199.0,279.9 200.0,275.7 201.0,272.0 202.0,267.4 203.0,263.9 204.0,263.6 205.0,267.8 206.0,273.1 207.0,278.0 208.0,280.1 209.0,279.9 210.0,279.7 211.0,279.7 212.0,279.5 213.0,277.4 214.0,275.1 215.0,276.3 216.0,278.5 217.0,279.3 218.0,279.8 219.0,279.6 219.6,279.9 220.1,253.0 220.9,283.0 221.2,281.2 222.0,282.4 223.0,282.1 224.0,280.2 225.0,279.8 226.0,278.8 227.0,274.7 228.0,270.7 229.0,266.9 230.0,263.1 231.0,264.3 232.0,268.8 233.0,274.1 234.0,279.1 235.0,280.0 236.0,280.0 237.0,279.4 238.0,279.4 239.0,277.7 240.0,275.9 241.0,275.5 242.0,278.2 243.0,279.3 244.0,279.9 245.0,279.7 246.0,279.5 246.0,279.8 246.5,253.0 247.3,283.0 247.6,281.2 248.0,281.9 249.0,282.9 250.0,280.7 251.0,279.9 252.0,279.8 253.0,276.9 254.0,272.2 255.0,268.6 256.0,264.5 257.0,262.4 258.0,267.5 258.6,281.0 263.6,279.0 266.3,264.0 267.8,231.0 268.5,205.0 271.1,200.0 271.8,220.0 272.9,253.0 275.1,297.0 278.4,325.6 280.6,336.6 282.8,312.4 285.0,286.0 288.3,279.4 291.6,277.2 294.9,275.0 295.0,275.1 296.0,276.0 297.0,278.4 298.0,279.7 299.0,280.0 300.0,279.9 300.8,279.8 301.3,253.0 302.1,283.0 302.4,281.2 303.0,282.4 304.0,282.6 305.0,280.6 306.0,279.9 307.0,279.5 308.0,276.0 309.0,271.6 310.0,267.7 311.0,263.9 312.0,263.5 313.0,268.4 314.0,272.5 315.0,277.6 316.0,279.6 317.0,279.6 318.0,279.4 319.0,279.2 320.0,277.2 321.0,275.2 322.0,276.4 323.0,278.5 324.0,279.5 325.0,279.4 326.0,280.0 326.8,279.7 327.3,253.0 328.1,283.0 328.4,281.1 329.0,282.1 330.0,282.4 331.0,280.6 332.0,279.6 333.0,280.0 334.0,275.5 335.0,271.5 336.0,267.9 337.0,263.3 338.0,263.3 339.0,267.8 340.0,272.9 341.0,277.6 342.0,279.6 343.0,280.0 344.0,279.7 345.0,279.6 346.0,279.4 347.0,277.5 348.0,275.2 349.0,275.7 350.0,277.9 351.0,279.2 352.0,280.0 353.0,279.3 353.9,279.7 354.4,253.0 355.2,283.0 355.5,281.1 356.0,282.2 357.0,282.0 358.0,280.6 359.0,279.4 360.0,279.7 361.0,276.2 362.0,271.8 363.0,267.6 364.0,264.0 365.0,262.3 366.0,267.3 367.0,272.3 368.0,277.5 369.0,279.6 370.0,279.4 371.0,279.9 372.0,279.8 373.0,279.1 374.0,276.8 375.0,275.0 376.0,276.1 377.0,278.5 378.0,279.3 379.0,279.9 380.0,279.9 380.7,279.7 381.2,253.0 382.0,283.0 382.3,281.1 383.0,282.0 384.0,282.1 385.0,279.9 386.0,280.0 387.0,279.4 388.0,275.4 389.0,270.9 390.0,266.8 391.0,263.4 392.0,263.6 393.0,268.5 394.0,273.3 394.9,281.0 399.9,279.0 402.6,264.0 404.1,231.0 404.8,205.0 407.4,200.0 408.1,220.0 409.2,253.0 411.4,297.0 414.7,325.6 416.9,336.6 419.1,312.4 421.3,286.0 424.6,279.4 427.9,277.2 431.2,275.0 432.0,279.7 433.0,279.8 434.0,279.9 434.6,279.6 435.1,253.0 435.9,283.0 436.2,281.0 437.0,282.6 438.0,282.1 439.0,280.1 440.0,279.9 441.0,279.1 442.0,274.7 443.0,271.0 444.0,267.0 445.0,262.9 446.0,263.6 447.0,268.7 448.0,273.8 449.0,278.7 450.0,279.8 451.0,279.7 452.0,279.3 453.0,279.8 454.0,278.7 455.0,276.9 456.0,274.8 457.0,276.9 458.0,278.7 459.0,279.6 460.0,279.7 461.0,279.8 461.5,279.6 462.0,253.0 462.8,283.0 463.1,281.0 464.0,282.4 465.0,281.3 466.0,280.0 467.0,279.8 468.0,278.2 469.0,274.0 470.0,269.9 471.0,266.2 472.0,262.3 473.0,264.1 474.0,269.4 475.0,274.0 476.0,278.7 477.0,279.8 478.0,279.5 479.0,279.8 480.0,279.4 481.0,278.4 482.0,276.3 483.0,275.0 484.0,276.6 485.0,278.9 486.0,279.6 487.0,279.6 488.0,279.3 488.5,279.5 489.0,253.0 489.8,283.0 490.1,280.9 491.0,282.4 492.0,281.4 493.0,279.9 494.0,279.5 495.0,278.0 496.0,274.5 497.0,270.3 498.0,266.5 499.0,262.4 500.0,264.6 501.0,269.3" stroke="#18d418"/><polyline points="71.0,314.3 72.0,313.7 73.0,313.6 74.0,314.4 75.0,313.8 76.0,313.7 77.0,313.7 78.0,311.9 79.0,310.1 80.0,309.9 81.0,312.8 82.0,313.6 83.0,314.0 84.0,314.3 84.9,314.0 85.4,291.5 86.2,321.0 86.5,315.4 87.0,316.5 88.0,316.4 89.0,315.2 90.0,314.1 91.0,313.8 92.0,310.2 93.0,306.8 94.0,302.7 95.0,299.0 96.0,297.6 97.0,302.5 98.0,306.9 99.0,311.7 100.0,314.1 101.0,313.8 102.0,314.3 103.0,313.8 104.0,313.6 105.0,311.8 106.0,309.6 107.0,310.2 108.0,313.0 109.0,313.9 110.0,313.7 111.0,313.6 111.7,314.0 112.2,291.5 113.0,321.0 113.3,315.4 114.0,317.0 115.0,316.4 116.0,314.6 117.0,313.9 118.0,313.7 119.0,310.0 120.0,305.6 121.0,301.7 122.0,298.0 123.0,298.2 124.0,303.1 125.0,312.0 130.0,311.5 132.7,297.0 134.9,264.0 136.0,255.2 137.8,286.0 140.4,319.0 143.7,341.0 145.9,349.8 148.1,330.0 150.3,314.6 154.7,312.4 158.0,309.0 161.3,308.5 162.0,313.2 163.0,313.8 164.0,314.1 165.0,314.0 165.5,313.9 166.0,291.5 166.8,321.0 167.1,315.3 168.0,317.1 169.0,316.0 170.0,314.6 171.0,313.5 172.0,312.6 173.0,308.3 174.0,303.8 175.0,299.3 176.0,295.3 177.0,297.5 178.0,302.6 179.0,307.7 180.0,313.7 181.0,313.8 182.0,313.6 183.0,313.7 184.0,313.6 185.0,313.6 186.0,311.4 187.0,309.4 188.0,309.9 189.0,312.5 190.0,313.4 191.0,313.7 192.0,314.0 192.8,313.9 193.3,291.5 194.1,321.0 194.4,315.3 195.0,316.1 196.0,316.3 197.0,314.9 198.0,313.6 199.0,313.6 200.0,309.5 201.0,305.1 202.0,301.0 203.0,296.6 204.0,295.9 205.0,301.0 206.0,306.3 207.0,311.6 208.0,313.5 209.0,314.0 210.0,313.6 211.0,314.0 212.0,313.2 213.0,310.8 214.0,309.4 215.0,310.7 216.0,312.5 217.0,313.7 218.0,313.5 219.0,314.0 219.6,313.9 220.1,291.5 220.9,321.0 221.2,315.2 222.0,317.0 223.0,316.3 224.0,314.1 225.0,313.9 226.0,312.7 227.0,308.5 228.0,304.5 229.0,300.1 230.0,295.2 231.0,296.9 232.0,302.3 233.0,307.3 234.0,313.0 235.0,314.1 236.0,313.8 237.0,313.7 238.0,313.7 239.0,312.0 240.0,309.5 241.0,309.6 242.0,311.8 243.0,313.7 244.0,313.8 245.0,313.9 246.0,314.1 246.0,313.8 246.5,291.5 247.3,321.0 247.6,315.2 248.0,315.8 249.0,316.6 250.0,315.1 251.0,314.1 252.0,313.7 253.0,310.4 254.0,305.7 255.0,301.4 256.0,296.9 257.0,294.7 258.0,299.9 258.6,312.0 263.6,311.5 266.3,297.0 268.5,264.0 269.6,255.2 271.4,286.0 274.0,319.0 277.3,341.0 279.5,349.8 281.7,330.0 283.9,314.6 288.3,312.4 291.6,309.0 294.9,308.5 295.0,309.3 296.0,309.8 297.0,312.3 298.0,313.4 299.0,313.5 300.0,313.7 300.8,313.8 301.3,291.5 302.1,321.0 302.4,315.2 303.0,316.5 304.0,316.2 305.0,314.5 306.0,314.1 307.0,314.1 308.0,309.1 309.0,304.2 310.0,300.4 311.0,295.5 312.0,294.7 313.0,300.2 314.0,305.8 315.0,311.4 316.0,313.4 317.0,313.4 318.0,314.0 319.0,313.4 320.0,311.2 321.0,309.4 322.0,310.3 323.0,312.3 324.0,313.2 325.0,313.6 326.0,313.6 326.8,313.7 327.3,291.5 328.1,321.0 328.4,315.1 329.0,316.2 330.0,316.4 331.0,314.1 332.0,313.9 333.0,313.9 334.0,309.3 335.0,304.5 336.0,299.8 337.0,295.1 338.0,294.6 339.0,300.2 340.0,305.9 341.0,311.7 342.0,313.5 343.0,313.7 344.0,313.8 345.0,313.7 346.0,312.9 347.0,312.0 348.0,309.5 349.0,309.7 350.0,311.9 351.0,313.5 352.0,314.0 353.0,313.6 353.9,313.7 354.4,291.5 355.2,321.0 355.5,315.1 356.0,315.8 357.0,316.3 358.0,314.9 359.0,313.8 360.0,313.9 361.0,309.4 362.0,305.3 363.0,300.6 364.0,295.6 365.0,294.3 366.0,300.0 367.0,305.4 368.0,311.0 369.0,313.5 370.0,313.7 371.0,313.5 372.0,313.8 373.0,312.9 374.0,311.5 375.0,309.3 376.0,310.0 377.0,312.4 378.0,313.2 379.0,313.8 380.0,313.3 380.7,313.7 381.2,291.5 382.0,321.0 382.3,315.1 383.0,316.6 384.0,315.8 385.0,314.4 386.0,313.8 387.0,313.0 388.0,308.1 389.0,303.5 390.0,298.9 391.0,293.8 392.0,294.2 393.0,300.3 394.0,306.3 394.9,312.0 399.9,311.5 402.6,297.0 404.8,264.0 405.9,255.2 407.7,286.0 410.3,319.0 413.6,341.0 415.8,349.8 418.0,330.0 420.2,314.6 424.6,312.4 427.9,309.0 431.2,308.5 432.0,313.4 433.0,313.9 434.0,313.7 434.6,313.6 435.1,291.5 435.9,321.0 436.2,315.0 437.0,316.8 438.0,316.1 439.0,314.0 440.0,313.5 441.0,312.2 442.0,307.4 443.0,302.4 444.0,296.8 445.0,291.5 446.0,293.4 447.0,299.9 448.0,305.7 449.0,312.1 450.0,313.7 451.0,313.2 452.0,313.8 453.0,313.3 454.0,312.9 455.0,310.5 456.0,308.8 457.0,310.2 458.0,312.4 459.0,313.3 460.0,313.7 461.0,313.8 461.5,313.6 462.0,291.5 462.8,321.0 463.1,315.0 464.0,316.6 465.0,315.7 466.0,313.8 467.0,313.2 468.0,311.9 469.0,306.3 470.0,300.8 471.0,295.5 472.0,289.8 473.0,293.4 474.0,299.6 475.0,306.6 476.0,313.0 477.0,313.2 478.0,313.8 479.0,313.8 480.0,313.4 481.0,312.9 482.0,310.5 483.0,308.7 484.0,310.3 485.0,312.5 486.0,313.7 487.0,313.8 488.0,313.2 488.5,313.5 489.0,291.5 489.8,321.0 490.1,314.9 491.0,316.2 492.0,315.4 493.0,313.8 494.0,313.3 495.0,312.0 496.0,306.2 497.0,301.3 498.0,295.6 499.0,290.1 500.0,293.3 501.0,299.7" stroke="#0000e8"/><polyline points="71.0,343.3 72.0,343.3 73.0,343.3 74.0,342.7 75.0,343.1 76.0,342.9 77.0,342.6 78.0,340.7 79.0,338.5 80.0,339.1 81.0,341.2 82.0,342.7 83.0,342.6 84.0,342.7 84.9,343.0 85.4,326.0 86.2,350.5 86.5,344.4 87.0,345.4 88.0,345.9 89.0,343.8 90.0,342.7 91.0,343.2 92.0,340.0 93.0,336.7 94.0,333.3 95.0,330.2 96.0,328.6 97.0,333.0 98.0,336.8 99.0,341.0 100.0,343.1 101.0,342.8 102.0,342.7 103.0,342.9 104.0,342.5 105.0,340.5 106.0,338.5 107.0,339.6 108.0,341.5 109.0,342.5 110.0,342.8 111.0,343.2 111.7,343.0 112.2,326.0 113.0,350.5 113.3,344.4 114.0,345.4 115.0,345.0 116.0,343.4 117.0,343.0 118.0,342.8 119.0,339.1 120.0,335.8 121.0,332.3 122.0,329.0 123.0,329.7 124.0,333.6 125.0,345.0 130.0,343.0 133.4,312.4 134.9,294.8 137.1,312.4 138.6,352.0 140.0,371.8 144.8,371.8 146.6,356.4 148.1,336.6 151.4,332.2 155.8,336.6 159.0,338.0 161.3,340.0 162.0,342.3 163.0,342.6 164.0,342.8 165.0,343.2 165.5,342.9 166.0,326.0 166.8,350.5 167.1,344.3 168.0,346.1 169.0,345.1 170.0,343.6 171.0,343.0 172.0,341.8 173.0,338.6 174.0,335.4 175.0,331.9 176.0,328.2 177.0,330.1 178.0,334.2 179.0,338.6 180.0,342.5 181.0,342.9 182.0,343.1 183.0,342.6 184.0,342.9 185.0,342.2 186.0,340.7 187.0,338.8 188.0,339.0 189.0,341.8 190.0,342.3 191.0,342.9 192.0,342.9 192.8,342.9 193.3,326.0 194.1,350.5 194.4,344.3 195.0,345.4 196.0,345.4 197.0,343.8 198.0,342.5 199.0,342.8 200.0,339.7 201.0,335.8 202.0,333.0 203.0,329.1 204.0,329.1 205.0,332.8 206.0,337.1 207.0,341.2 208.0,342.5 209.0,343.0 210.0,342.8 211.0,342.9 212.0,342.1 213.0,340.1 214.0,338.4 215.0,339.5 216.0,342.1 217.0,342.4 218.0,343.1 219.0,343.1 219.6,342.9 220.1,326.0 220.9,350.5 221.2,344.2 222.0,345.8 223.0,345.1 224.0,343.2 225.0,342.7 226.0,342.0 227.0,338.6 228.0,335.7 229.0,331.9 230.0,328.6 231.0,329.7 232.0,334.1 233.0,337.9 234.0,342.0 235.0,342.6 236.0,342.6 237.0,342.5 238.0,342.3 239.0,340.9 240.0,339.0 241.0,338.7 242.0,340.7 243.0,342.4 244.0,342.5 245.0,342.8 246.0,342.8 246.0,342.8 246.5,326.0 247.3,350.5 247.6,344.2 248.0,344.8 249.0,345.9 250.0,343.7 251.0,343.3 252.0,342.9 253.0,339.7 254.0,337.0 255.0,333.2 256.0,329.9 257.0,327.8 258.0,332.4 258.6,345.0 263.6,343.0 267.0,312.4 268.5,294.8 270.7,312.4 272.2,352.0 273.6,371.8 278.4,371.8 280.2,356.4 281.7,336.6 285.0,332.2 289.4,336.6 292.6,338.0 294.9,340.0 295.0,338.6 296.0,339.4 297.0,341.2 298.0,342.8 299.0,343.1 300.0,343.1 300.8,342.8 301.3,326.0 302.1,350.5 302.4,344.2 303.0,345.5 304.0,345.5 305.0,343.1 306.0,342.7 307.0,342.9 308.0,339.5 309.0,336.0 310.0,332.4 311.0,329.2 312.0,328.5 313.0,332.8 314.0,337.0 315.0,341.3 316.0,342.8 317.0,342.6 318.0,342.5 319.0,342.1 320.0,340.6 321.0,338.3 322.0,338.8 323.0,341.6 324.0,342.5 325.0,343.0 326.0,342.7 326.8,342.7 327.3,326.0 328.1,350.5 328.4,344.1 329.0,345.4 330.0,345.6 331.0,343.8 332.0,342.9 333.0,342.6 334.0,339.0 335.0,336.2 336.0,332.5 337.0,329.1 338.0,328.5 339.0,332.5 340.0,336.9 341.0,341.4 342.0,342.9 343.0,342.8 344.0,342.8 345.0,342.5 346.0,342.0 347.0,340.8 348.0,338.1 349.0,338.9 350.0,341.1 351.0,342.4 352.0,342.4 353.0,342.3 353.9,342.7 354.4,326.0 355.2,350.5 355.5,344.1 356.0,345.2 357.0,345.2 358.0,343.7 359.0,342.9 360.0,342.7 361.0,339.7 362.0,336.0 363.0,332.8 364.0,329.9 365.0,328.2 366.0,332.3 367.0,336.5 368.0,340.6 369.0,342.9 370.0,342.5 371.0,343.0 372.0,342.2 373.0,342.3 374.0,340.2 375.0,338.5 376.0,338.9 377.0,341.6 378.0,342.8 379.0,342.8 380.0,342.4 380.7,342.7 381.2,326.0 382.0,350.5 382.3,344.1 383.0,345.1 384.0,345.3 385.0,342.9 386.0,342.4 387.0,342.5 388.0,339.1 389.0,335.9 390.0,332.3 391.0,328.8 392.0,329.0 393.0,333.3 394.0,337.7 394.9,345.0 399.9,343.0 403.3,312.4 404.8,294.8 407.0,312.4 408.5,352.0 409.9,371.8 414.7,371.8 416.5,356.4 418.0,336.6 421.3,332.2 425.7,336.6 428.9,338.0 431.2,340.0 432.0,342.2 433.0,342.6 434.0,342.9 434.6,342.6 435.1,326.0 435.9,350.5 436.2,344.0 437.0,345.4 438.0,345.0 439.0,343.1 440.0,342.6 441.0,342.0 442.0,338.8 443.0,335.4 444.0,332.0 445.0,328.2 446.0,329.6 447.0,333.8 448.0,337.8 449.0,342.1 450.0,342.9 451.0,342.3 452.0,342.6 453.0,342.3 454.0,341.5 455.0,339.6 456.0,338.4 457.0,339.8 458.0,341.4 459.0,342.2 460.0,342.4 461.0,342.8 461.5,342.6 462.0,326.0 462.8,350.5 463.1,344.0 464.0,345.5 465.0,344.4 466.0,342.6 467.0,342.6 468.0,341.9 469.0,338.4 470.0,335.0 471.0,331.2 472.0,328.1 473.0,330.0 474.0,334.2 475.0,338.0 476.0,341.8 477.0,342.8 478.0,342.3 479.0,342.7 480.0,342.4 481.0,341.9 482.0,339.4 483.0,337.7 484.0,339.5 485.0,341.6 486.0,342.6 487.0,342.4 488.0,342.6 488.5,342.5 489.0,326.0 489.8,350.5 490.1,343.9 491.0,345.2 492.0,344.8 493.0,343.2 494.0,342.2 495.0,341.8 496.0,338.3 497.0,334.9 498.0,331.1 499.0,328.2 500.0,330.1 501.0,333.9" stroke="#383838" stroke-width="1.1"/>
</g>
<path d="M71.5 379.7V221.5H500.6" fill="none" stroke="#111" stroke-width="1"/>
<path d="M500.0 221.0V379.7H71.0" fill="none" stroke="#222" stroke-width="1.4"/>
<path d="M114.5 379.5v-4M114.5 221.5v4M157.5 379.5v-4M157.5 221.5v4M200.5 379.5v-4M200.5 221.5v4M243.5 379.5v-4M243.5 221.5v4M286.5 379.5v-4M286.5 221.5v4M328.5 379.5v-4M328.5 221.5v4M371.5 379.5v-4M371.5 221.5v4M414.5 379.5v-4M414.5 221.5v4M457.5 379.5v-4M457.5 221.5v4M71.5 233.5h4M500.0 233.5h-4M71.5 287.5h4M500.0 287.5h-4M71.5 340.5h4M500.0 340.5h-4" stroke="#000" stroke-width="1" fill="none"/>
<g fill="none"><path d="M81.6 325.2h7.2M85.2 321.6v7.2M82.7 322.7l5.0 5.0M82.7 327.7l5.0 -5.0M108.6 323.4h7.2M112.2 319.8v7.2M109.7 320.9l5.0 5.0M109.7 325.9l5.0 -5.0M189.7 324.5h7.2M193.3 320.9v7.2M190.8 322.0l5.0 5.0M190.8 327.0l5.0 -5.0M216.5 324.5h7.2M220.1 320.9v7.2M217.6 322.0l5.0 5.0M217.6 327.0l5.0 -5.0M242.9 323.4h7.2M246.5 319.8v7.2M244.0 320.9l5.0 5.0M244.0 325.9l5.0 -5.0M297.7 321.2h7.2M301.3 317.6v7.2M298.8 318.7l5.0 5.0M298.8 323.7l5.0 -5.0M323.7 325.6h7.2M327.3 322.0v7.2M324.8 323.1l5.0 5.0M324.8 328.1l5.0 -5.0M351.2 323.4h7.2M354.8 319.8v7.2M352.3 320.9l5.0 5.0M352.3 325.9l5.0 -5.0M377.6 324.5h7.2M381.2 320.9v7.2M378.7 322.0l5.0 5.0M378.7 327.0l5.0 -5.0M458.8 324.5h7.2M462.4 320.9v7.2M459.9 322.0l5.0 5.0M459.9 327.0l5.0 -5.0M485.4 323.4h7.2M489.0 319.8v7.2M486.5 320.9l5.0 5.0M486.5 325.9l5.0 -5.0" stroke="#ff0000" stroke-width="1.1" opacity="0.9"/><circle cx="134.9" cy="294.8" r="4.2" stroke="#ff0000" stroke-width="1"/><circle cx="166.1" cy="321.7" r="4.2" stroke="#ff0000" stroke-width="1"/><circle cx="269.6" cy="292.6" r="4.2" stroke="#ff0000" stroke-width="1"/><circle cx="405.9" cy="293.7" r="4.2" stroke="#ff0000" stroke-width="1"/><circle cx="435.1" cy="319.0" r="4.2" stroke="#ff0000" stroke-width="1"/></g>
<text transform="translate(71.00 397.00) scale(0.93 1)" text-anchor="middle" font-size="13.5">20</text>
<text transform="translate(113.90 397.00) scale(0.93 1)" text-anchor="middle" font-size="13.5">21</text>
<text transform="translate(156.80 397.00) scale(0.93 1)" text-anchor="middle" font-size="13.5">22</text>
<text transform="translate(199.70 397.00) scale(0.93 1)" text-anchor="middle" font-size="13.5">23</text>
<text transform="translate(242.60 397.00) scale(0.93 1)" text-anchor="middle" font-size="13.5">24</text>
<text transform="translate(285.50 397.00) scale(0.93 1)" text-anchor="middle" font-size="13.5">25</text>
<text transform="translate(328.40 397.00) scale(0.93 1)" text-anchor="middle" font-size="13.5">26</text>
<text transform="translate(371.30 397.00) scale(0.93 1)" text-anchor="middle" font-size="13.5">27</text>
<text transform="translate(414.20 397.00) scale(0.93 1)" text-anchor="middle" font-size="13.5">28</text>
<text transform="translate(457.10 397.00) scale(0.93 1)" text-anchor="middle" font-size="13.5">29</text>
<text transform="translate(500.00 397.00) scale(0.93 1)" text-anchor="middle" font-size="13.5">30</text>
<text transform="translate(67.00 238.20) scale(0.93 1)" text-anchor="end" font-size="13.5">10</text>
<text transform="translate(67.00 292.20) scale(0.93 1)" text-anchor="end" font-size="13.5">5</text>
<text transform="translate(67.00 345.20) scale(0.93 1)" text-anchor="end" font-size="13.5">0</text>
<text transform="translate(209.40 414.60) scale(0.965 1)" font-size="13.5">AHA 2008d1</text>
<text transform="translate(344.80 415.10) scale(1.0 1)" font-size="13.8" letter-spacing="0.9">[s]</text>
<text transform="translate(46.3 302.0) rotate(-90)" text-anchor="middle" font-size="13.8">[mV]</text>
<rect x="71" y="428" width="429" height="101" fill="#fefbfe"/>
<g clip-path="url(#c2)" fill="none" stroke-width="1.25" stroke-linejoin="round">
<polyline points="71.0,459.5 72.0,459.6 73.0,459.9 74.0,460.2 74.5,460.1 75.0,434.0 75.8,464.0 76.1,460.7 77.0,460.9 78.0,461.8 79.0,460.8 80.0,460.9 81.0,460.4 82.0,459.7 83.0,460.0 84.0,459.9 85.0,459.9 86.0,460.5 87.0,459.6 88.0,459.5 89.0,460.5 90.0,459.9 91.0,459.7 92.0,459.8 93.0,459.9 94.0,460.5 95.0,459.7 96.0,459.7 97.0,460.1 98.0,460.0 99.0,460.5 100.0,460.4 101.0,459.8 102.0,459.7 103.0,460.4 104.0,460.5 105.0,459.5 106.0,460.2 107.0,460.4 108.0,460.2 109.0,459.7 110.0,460.3 111.0,460.3 111.3,460.1 111.8,432.0 112.6,464.0 112.9,460.7 113.0,461.0 114.0,461.1 115.0,461.1 116.0,461.1 117.0,460.5 118.0,460.2 119.0,460.4 120.0,460.6 120.0,460.5 123.7,459.5 125.5,452.0 127.1,443.9 128.8,452.0 131.0,463.0 133.7,468.8 137.0,462.0 140.6,456.8 144.0,459.0 149.6,460.8 150.0,460.7 151.0,460.9 152.0,461.4 153.0,461.6 154.0,461.2 155.0,461.3 156.0,461.7 157.0,461.2 158.0,461.4 159.0,461.7 160.0,461.8 161.0,461.3 162.0,461.4 163.0,461.5 164.0,462.2 165.0,462.2 166.0,462.6 167.0,462.4 168.0,462.0 169.0,462.6 170.0,462.9 171.0,462.3 172.0,462.0 173.0,462.4 174.0,462.4 175.0,462.4 176.0,462.1 177.0,462.1 178.0,462.8 179.0,461.8 180.0,462.3 181.0,461.8 182.0,461.7 183.0,462.3 184.0,461.7 184.5,461.9 185.0,434.6 185.8,465.7 186.1,462.3 187.0,463.0 188.0,463.0 189.0,462.9 190.0,461.8 191.0,461.4 192.0,461.3 193.0,460.9 194.0,461.1 195.0,460.7 196.0,460.3 197.0,460.2 198.0,460.8 199.0,460.7 200.0,460.8 201.0,460.5 202.0,460.3 203.0,459.9 204.0,460.6 205.0,459.8 206.0,460.1 207.0,459.8 208.0,460.0 209.0,459.9 210.0,460.0 211.0,460.3 212.0,460.1 213.0,459.8 214.0,460.3 215.0,460.3 216.0,460.4 217.0,459.5 218.0,460.1 219.0,460.4 220.0,459.7 221.0,459.7 221.2,460.0 221.7,433.0 222.5,463.9 222.8,460.6 223.0,460.5 224.0,461.1 225.0,461.7 226.0,460.7 227.0,460.0 228.0,459.6 229.0,459.7 230.0,460.0 231.0,459.6 232.0,460.0 233.0,459.3 234.0,459.4 235.0,459.8 236.0,459.6 237.0,459.6 238.0,460.1 239.0,459.4 240.0,459.3 241.0,459.1 242.0,459.5 243.0,459.3 244.0,459.5 245.0,459.0 246.0,459.0 247.0,459.3 248.0,459.7 249.0,459.2 250.0,459.9 251.0,459.5 252.0,459.3 253.0,459.7 254.0,459.1 255.0,459.4 256.0,459.7 257.0,459.4 258.0,459.2 258.0,459.4 258.5,432.0 259.3,463.3 259.6,459.9 260.0,460.2 261.0,460.3 262.0,460.5 263.0,460.1 264.0,460.0 265.0,459.4 266.0,459.2 267.0,459.5 268.0,458.9 269.0,459.0 270.0,459.3 271.0,459.1 272.0,458.7 273.0,458.9 274.0,459.3 275.0,458.7 276.0,459.2 277.0,458.5 278.0,459.4 279.0,459.1 280.0,458.7 281.0,459.4 282.0,459.2 283.0,458.4 284.0,458.6 285.0,458.8 286.0,459.4 287.0,458.5 288.0,458.4 289.0,458.7 290.0,458.5 291.0,458.9 292.0,459.1 293.0,459.0 294.0,458.7 295.0,458.7 295.4,459.3 295.9,432.0 296.7,463.2 297.0,459.8 297.0,459.9 298.0,460.5 299.0,460.8 300.0,460.7 301.0,460.3 302.0,459.9 303.0,459.7 304.0,459.3 305.0,459.1 306.0,459.1 307.0,459.9 308.0,459.1 309.0,459.7 310.0,460.1 311.0,459.5 312.0,459.6 313.0,459.7 314.0,460.3 315.0,460.0 316.0,460.2 317.0,459.4 318.0,460.2 319.0,459.9 320.0,459.9 321.0,460.5 322.0,460.6 323.0,461.0 324.0,461.0 325.0,461.3 326.0,461.0 327.0,461.3 328.0,461.7 329.0,461.6 330.0,461.4 331.0,461.8 332.0,462.0 332.2,461.6 332.7,432.0 333.5,465.5 333.8,462.0 334.0,461.7 335.0,462.4 336.0,462.3 337.0,461.8 338.0,461.8 339.0,460.8 340.0,460.4 341.0,460.2 342.0,460.3 342.0,461.0 345.6,460.5 347.0,454.0 348.6,447.9 350.5,455.0 352.5,464.0 355.6,469.8 358.5,463.0 361.6,456.8 365.0,458.5 369.5,459.8 370.0,460.0 371.0,460.6 372.0,460.5 373.0,460.8 374.0,460.8 375.0,460.5 376.0,460.5 377.0,460.7 378.0,460.2 379.0,460.5 380.0,460.8 381.0,460.1 382.0,459.6 383.0,459.5 384.0,459.2 385.0,458.0 386.0,457.4 387.0,457.5 388.0,456.5 389.0,456.9 390.0,456.0 391.0,456.1 392.0,456.4 393.0,456.5 394.0,455.8 395.0,456.1 395.5,455.6 396.0,456.2 396.5,455.6 397.0,456.9 397.5,456.0 398.0,456.1 398.5,457.0 399.0,456.9 399.5,456.1 400.0,456.4 400.5,456.7 401.0,455.9 401.5,455.8 402.0,457.1 402.5,455.9 403.0,456.9 403.5,456.9 404.0,456.7 404.5,456.3 405.0,457.3 405.2,456.7 405.7,429.0 406.5,460.6 406.8,457.8 407.0,458.2 407.5,458.2 408.0,458.5 408.5,458.9 409.0,460.4 409.5,460.6 410.0,459.8 410.5,459.2 411.0,458.7 411.5,459.1 412.0,458.8 412.5,458.3 413.0,458.7 413.5,459.6 414.0,458.2 414.5,458.9 415.0,459.1 415.5,458.4 416.0,458.2 416.5,458.3 417.0,458.4 417.5,459.9 418.0,459.7 418.5,459.4 419.0,459.8 419.5,458.7 420.0,458.6 420.5,459.7 421.0,459.3 421.5,459.8 422.0,458.8 422.5,458.9 423.0,459.5 423.5,459.8 424.0,458.5 424.5,458.7 425.0,458.2 425.5,459.2 426.0,459.9 426.5,459.2 427.0,458.5 427.5,459.5 428.0,459.4 428.5,458.4 429.0,459.9 429.5,459.4 430.0,459.1 430.5,458.8 431.0,458.5 431.5,459.1 432.0,458.9 432.5,458.7 433.0,459.4 433.5,459.4 434.0,460.0 434.5,460.0 435.0,459.1 435.5,459.5 436.0,458.9 436.5,459.0 437.0,459.3 437.5,460.0 438.0,458.4 438.5,459.1 439.0,458.9 439.5,459.7 440.0,460.0 440.5,459.2 441.0,458.5 441.5,459.5 441.6,459.3 442.1,431.6 442.9,463.3 443.2,460.7 443.5,461.0 444.0,461.9 444.5,463.1 445.0,461.5 445.5,462.4 446.0,463.8 446.5,464.3 447.0,463.9 447.5,461.9 448.0,463.6 448.5,461.6 449.0,462.0 449.5,461.2 450.0,462.5 450.5,461.9 451.0,462.7 451.5,463.5 452.0,461.2 452.5,462.7 453.0,462.6 453.5,461.7 454.0,461.1 454.5,463.5 455.0,462.9 455.5,462.7 456.0,461.3 456.5,463.5 457.0,462.2 457.5,462.4 458.0,462.7 458.5,462.4 459.0,463.8 459.5,462.5 460.0,463.1 460.5,463.3 461.0,463.8 461.5,461.8 462.0,462.2 462.5,463.9 463.0,463.0 463.5,462.4 464.0,463.8 464.5,461.7 465.0,462.1 465.5,461.6 466.0,463.3 466.5,462.8 467.0,462.3 467.5,462.7 468.0,462.3 468.5,463.5 469.0,463.7 469.5,462.7 470.0,464.0 470.5,461.6 471.0,462.9 471.5,461.6 472.0,461.4 472.5,462.4 473.0,461.0 473.5,460.8 474.0,460.8 474.5,461.3 475.0,462.4 475.5,460.8 476.0,460.2 476.5,461.8 477.0,461.8 477.2,460.9 477.7,430.7 478.5,464.7 478.8,461.0 479.0,460.9 479.5,462.6 480.0,461.5 480.5,462.5 481.0,460.7 481.5,461.1 482.0,461.4 482.5,459.9 483.0,460.4 483.5,461.0 484.0,460.8 484.5,460.4 485.0,460.7 485.5,461.1 486.0,460.0 486.5,459.0 487.0,458.9 487.5,458.4 488.0,460.7 488.5,459.8 489.0,459.8 489.5,460.5 490.0,460.0 490.5,459.2 491.0,459.7 491.5,458.3 492.0,458.7 492.5,459.0 493.0,460.1 493.5,459.8 494.0,459.6 494.5,459.0 495.0,458.8 495.5,458.9 496.0,458.0 496.5,458.8 497.0,460.3 497.5,460.0 498.0,458.4 498.5,459.1 499.0,459.7 499.5,458.2 500.0,458.6 500.5,459.2 501.0,458.2" stroke="#18d418"/><polyline points="71.0,479.2 72.0,479.4 73.0,479.5 74.0,480.2 74.5,479.7 75.0,453.9 75.8,487.7 76.1,479.7 77.0,479.2 78.0,479.7 79.0,480.1 80.0,479.7 81.0,480.1 82.0,479.9 83.0,479.0 84.0,478.1 85.0,478.6 86.0,477.4 87.0,477.1 88.0,478.1 89.0,478.7 90.0,479.1 91.0,479.7 92.0,479.1 93.0,479.1 94.0,479.2 95.0,480.3 96.0,479.2 97.0,479.3 98.0,479.1 99.0,479.2 100.0,479.1 101.0,479.5 102.0,479.3 103.0,479.5 104.0,480.2 105.0,479.3 106.0,480.1 107.0,480.0 108.0,479.8 109.0,479.8 110.0,480.0 111.0,479.7 111.3,479.6 111.8,461.8 112.6,487.5 112.9,479.4 113.0,479.2 114.0,478.9 115.0,479.0 116.0,479.6 117.0,478.8 118.0,478.1 118.0,479.5 122.0,478.5 125.0,476.0 126.8,470.0 127.7,463.8 129.0,474.7 133.0,475.0 136.0,472.0 139.6,469.8 143.0,474.0 145.6,475.7 146.0,475.8 147.0,476.1 148.0,476.6 149.0,476.6 150.0,476.2 151.0,476.5 152.0,476.4 153.0,476.6 154.0,478.0 155.0,477.7 156.0,478.4 157.0,478.4 158.0,478.0 159.0,479.0 160.0,479.1 161.0,478.8 162.0,478.5 163.0,479.0 164.0,479.0 165.0,479.5 166.0,479.4 167.0,480.3 168.0,480.8 169.0,480.1 170.0,481.0 171.0,481.0 172.0,481.1 173.0,481.8 174.0,481.3 175.0,482.1 176.0,481.3 177.0,482.6 178.0,481.9 179.0,481.9 180.0,483.2 181.0,482.9 182.0,482.7 183.0,482.8 184.0,482.2 184.5,482.3 185.0,459.8 185.8,490.3 186.1,482.2 187.0,482.7 188.0,482.6 189.0,481.6 190.0,481.8 191.0,481.6 192.0,482.0 193.0,480.5 194.0,481.0 195.0,479.8 196.0,479.6 197.0,478.9 198.0,478.9 199.0,480.2 200.0,480.1 201.0,481.0 202.0,481.1 203.0,481.1 204.0,480.2 205.0,480.8 206.0,481.1 207.0,480.4 208.0,479.7 209.0,479.7 210.0,480.5 211.0,480.3 212.0,479.2 213.0,479.1 214.0,479.5 215.0,479.0 216.0,478.5 217.0,479.3 218.0,478.7 219.0,478.2 220.0,477.6 221.0,478.0 221.2,478.0 221.7,458.0 222.5,485.9 222.8,477.7 223.0,477.3 224.0,477.0 225.0,477.6 226.0,477.7 227.0,476.8 228.0,476.7 229.0,476.5 230.0,475.9 231.0,474.8 232.0,474.3 233.0,473.8 234.0,473.5 235.0,473.5 236.0,474.1 237.0,474.1 238.0,475.1 239.0,474.5 240.0,475.2 241.0,474.9 242.0,474.1 243.0,473.7 244.0,474.0 245.0,473.7 246.0,473.6 247.0,472.9 248.0,473.2 249.0,473.3 250.0,472.7 251.0,472.3 252.0,472.9 253.0,471.9 254.0,472.6 255.0,472.0 256.0,471.2 257.0,471.8 258.0,471.5 258.0,471.9 258.5,447.9 259.3,479.9 259.6,472.0 260.0,471.9 261.0,471.5 262.0,472.6 263.0,472.4 264.0,472.2 265.0,472.0 266.0,471.3 267.0,472.0 268.0,470.8 269.0,470.6 270.0,470.3 271.0,470.3 272.0,470.1 273.0,471.7 274.0,471.7 275.0,471.9 276.0,472.8 277.0,472.9 278.0,472.8 279.0,473.1 280.0,472.5 281.0,472.2 282.0,472.5 283.0,472.9 284.0,473.1 285.0,473.1 286.0,473.1 287.0,473.2 288.0,473.4 289.0,473.4 290.0,472.9 291.0,473.6 292.0,473.4 293.0,473.3 294.0,474.1 295.0,474.5 295.4,474.1 295.9,456.0 296.7,482.2 297.0,474.5 297.0,474.3 298.0,474.6 299.0,474.8 300.0,475.1 301.0,474.9 302.0,474.1 303.0,474.6 304.0,474.1 305.0,473.7 306.0,473.6 307.0,472.7 308.0,473.1 309.0,473.7 310.0,473.1 311.0,474.6 312.0,474.8 313.0,474.8 314.0,475.4 315.0,474.7 316.0,474.8 317.0,475.9 318.0,475.4 319.0,474.9 320.0,474.9 321.0,475.3 322.0,475.5 323.0,476.1 324.0,475.1 325.0,475.7 326.0,475.5 327.0,475.7 328.0,476.2 329.0,475.2 330.0,476.1 331.0,476.0 332.0,475.5 332.2,475.7 332.7,458.0 333.5,483.8 333.8,475.8 334.0,476.1 335.0,476.2 336.0,475.6 337.0,475.4 338.0,475.9 339.0,475.9 340.0,475.4 341.0,475.1 341.0,476.0 345.0,475.0 348.0,472.0 349.6,467.8 351.0,476.0 353.5,482.0 355.6,485.7 359.0,482.5 362.6,480.7 366.0,482.0 367.0,482.4 368.0,482.3 369.0,482.3 370.0,483.0 371.0,483.4 372.0,483.6 373.0,483.9 374.0,483.9 375.0,484.4 376.0,484.4 377.0,484.2 378.0,484.2 379.0,484.9 380.0,485.4 381.0,485.1 382.0,485.5 383.0,485.4 384.0,485.6 385.0,486.1 386.0,487.1 387.0,486.4 388.0,486.8 389.0,487.3 390.0,488.3 391.0,487.9 392.0,488.1 393.0,488.6 394.0,489.5 395.0,489.6 396.0,490.9 397.0,490.6 398.0,491.3 399.0,491.6 400.0,492.2 400.5,492.1 401.0,492.5 401.5,492.8 402.0,493.1 402.5,493.5 403.0,492.7 403.5,492.0 404.0,491.3 404.5,492.5 405.0,492.1 405.2,491.4 405.7,455.0 406.5,499.0 406.8,490.2 407.0,489.8 407.5,489.2 408.0,489.3 408.5,489.3 409.0,490.2 409.5,488.9 410.0,489.7 410.5,489.8 411.0,489.6 411.5,489.5 412.0,488.4 412.5,488.5 413.0,489.1 413.5,489.1 414.0,489.6 414.5,489.0 415.0,487.8 415.5,487.4 416.0,488.3 416.5,486.7 417.0,488.2 417.5,486.7 418.0,487.6 418.5,488.1 419.0,486.9 419.5,487.1 420.0,488.3 420.5,486.6 421.0,483.4 421.5,484.5 422.0,485.4 422.5,485.6 423.0,485.1 423.5,484.6 424.0,485.9 424.5,485.9 425.0,485.8 425.5,486.3 426.0,486.4 426.5,486.3 427.0,486.5 427.5,486.7 428.0,487.2 428.5,487.3 429.0,486.0 429.5,487.5 430.0,486.7 430.5,487.1 431.0,486.9 431.5,487.1 432.0,487.4 432.5,487.6 433.0,487.1 433.5,487.6 434.0,488.0 434.5,488.0 435.0,488.3 435.5,487.6 436.0,488.6 436.5,489.3 437.0,489.2 437.5,488.9 438.0,489.5 438.5,488.8 439.0,488.6 439.5,489.5 440.0,488.7 440.5,488.8 441.0,490.2 441.5,489.4 441.6,489.4 442.1,457.0 442.9,497.4 443.2,489.4 443.5,489.8 444.0,490.5 444.5,490.1 445.0,488.8 445.5,490.0 446.0,490.5 446.5,490.1 447.0,489.7 447.5,487.1 448.0,486.9 448.5,486.2 449.0,487.6 449.5,486.7 450.0,485.7 450.5,484.1 451.0,484.1 451.5,484.2 452.0,481.7 452.5,483.5 453.0,482.3 453.5,482.3 454.0,482.0 454.5,480.4 455.0,479.5 455.5,479.4 456.0,479.5 456.5,479.7 457.0,478.6 457.5,478.4 458.0,478.9 458.5,479.3 459.0,476.9 459.5,479.1 460.0,478.1 460.5,477.3 461.0,477.0 461.5,477.4 462.0,475.9 462.5,475.2 463.0,474.1 463.5,474.4 464.0,473.2 464.5,473.3 465.0,474.0 465.5,472.8 466.0,473.9 466.5,472.3 467.0,472.9 467.5,470.7 468.0,472.5 468.5,471.7 469.0,471.4 469.5,470.7 470.0,469.5 470.5,468.0 471.0,469.6 471.5,469.5 472.0,467.6 472.5,468.1 473.0,467.3 473.5,467.3 474.0,467.3 474.5,466.1 475.0,464.3 475.5,464.8 476.0,464.7 476.5,463.4 477.0,464.4 477.2,463.7 477.7,452.0 478.5,471.3 478.8,462.5 479.0,463.0 479.5,462.3 480.0,461.1 480.5,461.0 481.0,461.3 481.5,461.4 482.0,458.9 482.5,458.8 483.0,459.0 483.5,458.0 484.0,457.5 484.5,457.4 485.0,456.4 485.5,455.6 486.0,456.2 486.5,455.6 487.0,455.5 487.5,455.8 488.0,455.2 488.5,453.3 489.0,452.2 489.5,452.7 490.0,451.9 490.5,452.0 491.0,453.0 491.5,452.9 492.0,454.0 492.5,454.0 493.0,454.3 493.5,455.4 494.0,455.1 494.5,455.5 495.0,455.6 495.5,456.7 496.0,455.8 496.5,455.6 497.0,456.5 497.5,455.6 498.0,457.5 498.5,457.0 499.0,456.7 499.5,457.9 500.0,458.2 500.5,457.9 501.0,457.1" stroke="#0000e8"/><polyline points="71.0,502.7 72.0,502.7 73.0,502.9 74.0,502.4 74.5,502.6 75.0,476.5 75.8,505.6 76.1,500.3 77.0,497.7 78.0,502.3 79.0,502.7 80.0,502.6 81.0,502.4 82.0,502.7 83.0,501.9 84.0,501.3 85.0,501.2 86.0,500.4 87.0,499.9 88.0,500.1 89.0,500.8 90.0,500.9 91.0,502.0 92.0,502.4 93.0,502.4 94.0,502.8 95.0,502.9 96.0,502.6 97.0,502.7 98.0,502.2 99.0,502.2 100.0,503.0 101.0,502.4 102.0,502.3 103.0,502.9 104.0,502.8 105.0,502.2 106.0,502.4 107.0,502.3 108.0,502.3 109.0,502.1 110.0,502.6 111.0,502.4 111.3,502.5 111.8,480.7 112.6,505.5 112.9,500.3 113.0,499.0 114.0,499.0 115.0,502.1 116.0,502.8 117.0,502.7 117.0,502.6 120.0,502.0 123.0,500.0 126.0,495.0 127.1,489.7 128.3,498.0 130.0,503.0 134.0,501.5 137.0,500.0 139.6,498.6 142.0,501.5 145.0,502.7 145.0,502.6 146.0,502.2 147.0,502.5 148.0,502.6 149.0,502.1 150.0,502.1 151.0,502.6 152.0,502.7 153.0,502.4 154.0,502.4 155.0,502.5 156.0,502.2 157.0,502.8 158.0,502.9 159.0,502.4 160.0,502.0 161.0,502.4 162.0,502.7 163.0,502.3 164.0,502.1 165.0,502.2 166.0,502.6 167.0,502.6 168.0,502.3 169.0,502.6 170.0,502.7 171.0,502.9 172.0,502.7 173.0,502.4 174.0,502.7 175.0,502.8 176.0,502.8 177.0,502.7 178.0,502.5 179.0,502.4 180.0,502.7 181.0,502.5 182.0,502.6 183.0,502.2 184.0,502.1 184.5,502.4 185.0,478.2 185.8,505.4 186.1,500.1 187.0,497.2 188.0,502.1 189.0,502.1 190.0,502.8 191.0,501.9 192.0,502.4 193.0,502.0 194.0,501.3 195.0,501.0 196.0,500.3 197.0,499.5 198.0,500.5 199.0,500.5 200.0,501.5 201.0,502.0 202.0,501.7 203.0,501.8 204.0,501.9 205.0,502.6 206.0,502.6 207.0,502.1 208.0,502.0 209.0,502.3 210.0,502.6 211.0,502.6 212.0,502.7 213.0,502.8 214.0,502.6 215.0,502.7 216.0,501.9 217.0,501.9 218.0,502.7 219.0,502.5 220.0,502.2 221.0,502.0 221.2,502.4 221.7,478.7 222.5,505.4 222.8,500.1 223.0,498.0 224.0,500.1 225.0,502.3 226.0,502.1 227.0,501.9 228.0,501.9 229.0,501.6 230.0,501.1 231.0,500.9 232.0,500.0 233.0,500.2 234.0,499.9 235.0,500.1 236.0,500.8 237.0,501.0 238.0,501.3 239.0,501.7 240.0,502.1 241.0,502.2 242.0,502.1 243.0,502.1 244.0,502.6 245.0,501.9 246.0,502.3 247.0,502.2 248.0,502.1 249.0,502.5 250.0,502.1 251.0,501.9 252.0,502.0 253.0,502.7 254.0,502.2 255.0,502.0 256.0,502.7 257.0,502.4 258.0,502.7 258.0,502.3 258.5,478.7 259.3,505.3 259.6,500.0 260.0,496.4 261.0,500.9 262.0,502.0 263.0,502.5 264.0,502.2 265.0,502.3 266.0,501.7 267.0,501.7 268.0,500.4 269.0,500.3 270.0,499.5 271.0,499.6 272.0,500.5 273.0,500.7 274.0,501.6 275.0,501.6 276.0,502.3 277.0,502.5 278.0,502.4 279.0,502.0 280.0,502.4 281.0,502.7 282.0,502.5 283.0,502.2 284.0,502.2 285.0,501.9 286.0,502.5 287.0,501.9 288.0,502.0 289.0,501.8 290.0,501.9 291.0,502.1 292.0,502.2 293.0,501.9 294.0,502.2 295.0,502.5 295.4,502.2 295.9,481.7 296.7,505.2 297.0,499.6 297.0,500.0 298.0,498.0 299.0,502.6 300.0,502.6 301.0,502.2 302.0,501.7 303.0,502.2 304.0,501.9 305.0,501.3 306.0,500.4 307.0,499.8 308.0,499.8 309.0,500.2 310.0,500.9 311.0,501.0 312.0,501.6 313.0,501.7 314.0,502.1 315.0,502.2 316.0,502.0 317.0,502.2 318.0,502.6 319.0,502.0 320.0,502.0 321.0,502.0 322.0,502.5 323.0,502.0 324.0,502.5 325.0,502.6 326.0,502.5 327.0,502.5 328.0,501.9 329.0,502.1 330.0,502.5 331.0,502.0 332.0,502.3 332.2,502.2 332.7,481.7 333.5,505.2 333.8,499.9 334.0,498.3 335.0,499.8 336.0,501.8 337.0,501.7 338.0,501.9 339.0,502.0 339.0,502.6 342.0,501.5 345.0,498.5 347.8,494.0 348.6,491.7 349.8,499.0 352.0,503.5 357.0,502.0 361.6,499.6 364.0,501.5 367.0,502.3 367.0,502.6 368.0,501.9 369.0,502.6 370.0,501.7 371.0,502.1 372.0,502.0 373.0,501.8 374.0,502.5 375.0,502.3 376.0,501.8 377.0,501.8 378.0,502.4 379.0,502.0 380.0,501.9 381.0,501.9 382.0,501.9 383.0,502.2 384.0,501.9 385.0,502.2 386.0,501.7 387.0,502.1 388.0,502.2 389.0,501.9 390.0,502.4 391.0,502.5 392.0,502.2 393.0,502.0 394.0,501.8 395.0,502.2 396.0,501.9 397.0,501.8 398.0,502.1 399.0,501.8 400.0,502.2 401.0,502.3 402.0,501.6 403.0,502.2 404.0,501.8 405.0,501.9 405.2,502.1 405.7,473.5 406.5,505.1 406.8,499.8 407.0,498.2 408.0,499.6 409.0,502.3 410.0,501.9 411.0,502.4 412.0,501.6 413.0,501.8 414.0,500.8 415.0,500.7 416.0,500.3 417.0,500.0 418.0,499.8 419.0,499.9 420.0,500.3 421.0,501.1 422.0,501.6 423.0,501.9 424.0,502.1 425.0,502.2 426.0,502.4 427.0,502.1 428.0,502.4 429.0,502.2 430.0,501.9 431.0,502.3 432.0,501.9 433.0,502.3 434.0,502.4 435.0,502.4 436.0,502.4 437.0,502.2 438.0,502.0 439.0,501.8 440.0,502.1 441.0,502.4 441.6,502.0 442.1,475.6 442.9,505.0 443.2,499.4 444.0,495.6 445.0,502.0 445.5,500.5 446.0,500.2 446.5,500.0 447.0,500.8 447.5,501.2 448.0,499.8 448.5,500.8 449.0,499.0 449.5,499.1 450.0,499.4 450.5,499.5 451.0,498.5 451.5,498.5 452.0,497.4 452.5,497.0 453.0,496.9 453.5,495.5 454.0,495.7 454.5,495.9 455.0,496.6 455.5,495.6 456.0,495.9 456.5,497.6 457.0,497.0 457.5,496.7 458.0,497.6 458.5,497.5 459.0,497.7 459.5,497.2 460.0,497.2 460.5,496.0 461.0,496.6 461.5,496.4 462.0,496.0 462.5,496.1 463.0,497.1 463.5,495.5 464.0,495.2 464.5,495.5 465.0,495.0 465.5,494.7 466.0,496.7 466.5,496.0 467.0,494.9 467.5,496.0 468.0,495.3 468.5,496.0 469.0,497.0 469.5,497.2 470.0,496.0 470.5,496.8 471.0,496.3 471.5,495.5 472.0,496.2 472.5,497.1 473.0,497.1 473.5,497.0 474.0,497.6 474.5,496.4 475.0,497.1 475.5,497.4 476.0,497.7 476.5,497.6 477.0,497.7 477.2,496.9 477.7,476.0 478.5,500.0 478.8,494.4 479.0,491.6 479.5,489.3 480.0,493.8 480.5,495.3 481.0,495.3 481.5,496.1 482.0,495.2 482.5,494.4 483.0,495.8 483.5,495.9 484.0,494.1 484.5,494.8 485.0,493.2 485.5,493.2 486.0,492.6 486.5,493.2 487.0,492.6 487.5,492.6 488.0,491.8 488.5,491.6 489.0,491.5 489.5,490.6 490.0,489.7 490.5,489.5 491.0,491.2 491.5,491.9 492.0,492.3 492.5,493.7 493.0,494.1 493.5,494.0 494.0,494.2 494.5,495.4 495.0,497.0 495.5,497.5 496.0,496.2 496.5,496.7 497.0,498.1 497.5,499.5 498.0,499.9 498.5,500.3 499.0,499.2 499.5,499.9 500.0,501.6 500.5,500.9 501.0,500.6" stroke="#383838" stroke-width="1.1"/>
</g>
<path d="M71.5 529.7V428.5H500.6" fill="none" stroke="#111" stroke-width="1"/>
<path d="M500.0 428.0V529.7H71.0" fill="none" stroke="#222" stroke-width="1.4"/>
<path d="M114.5 529.5v-4M114.5 428.5v4M157.5 529.5v-4M157.5 428.5v4M200.5 529.5v-4M200.5 428.5v4M243.5 529.5v-4M243.5 428.5v4M286.5 529.5v-4M286.5 428.5v4M328.5 529.5v-4M328.5 428.5v4M371.5 529.5v-4M371.5 428.5v4M414.5 529.5v-4M414.5 428.5v4M457.5 529.5v-4M457.5 428.5v4M71.5 430.5h4M500.0 430.5h-4M71.5 466.5h4M500.0 466.5h-4M71.5 501.5h4M500.0 501.5h-4" stroke="#000" stroke-width="1" fill="none"/>
<g fill="none"><path d="M71.4 480.7h7.2M75.0 477.1v7.2M72.5 478.2l5.0 5.0M72.5 483.2l5.0 -5.0M108.2 480.7h7.2M111.8 477.1v7.2M109.3 478.2l5.0 5.0M109.3 483.2l5.0 -5.0M181.4 478.0h7.2M185.0 474.4v7.2M182.5 475.5l5.0 5.0M182.5 480.5l5.0 -5.0M218.1 476.7h7.2M221.7 473.1v7.2M219.2 474.2l5.0 5.0M219.2 479.2l5.0 -5.0M254.9 475.1h7.2M258.5 471.5v7.2M256.0 472.6l5.0 5.0M256.0 477.6l5.0 -5.0M292.3 478.1h7.2M295.9 474.5v7.2M293.4 475.6l5.0 5.0M293.4 480.6l5.0 -5.0M329.1 480.1h7.2M332.7 476.5v7.2M330.2 477.6l5.0 5.0M330.2 482.6l5.0 -5.0M402.1 474.1h7.2M405.7 470.5v7.2M403.2 471.6l5.0 5.0M403.2 476.6l5.0 -5.0M438.5 476.2h7.2M442.1 472.6v7.2M439.6 473.7l5.0 5.0M439.6 478.7l5.0 -5.0M474.1 476.2h7.2M477.7 472.6v7.2M475.2 473.7l5.0 5.0M475.2 478.7l5.0 -5.0" stroke="#ff0000" stroke-width="1.1" opacity="0.9"/><circle cx="127.1" cy="489.0" r="4.2" stroke="#ff0000" stroke-width="1"/><circle cx="348.6" cy="492.0" r="4.2" stroke="#ff0000" stroke-width="1"/></g>
<text transform="translate(71.00 545.70) scale(0.93 1)" text-anchor="middle" font-size="13.5">20</text>
<text transform="translate(113.90 545.70) scale(0.93 1)" text-anchor="middle" font-size="13.5">21</text>
<text transform="translate(156.80 545.70) scale(0.93 1)" text-anchor="middle" font-size="13.5">22</text>
<text transform="translate(199.70 545.70) scale(0.93 1)" text-anchor="middle" font-size="13.5">23</text>
<text transform="translate(242.60 545.70) scale(0.93 1)" text-anchor="middle" font-size="13.5">24</text>
<text transform="translate(285.50 545.70) scale(0.93 1)" text-anchor="middle" font-size="13.5">25</text>
<text transform="translate(328.40 545.70) scale(0.93 1)" text-anchor="middle" font-size="13.5">26</text>
<text transform="translate(371.30 545.70) scale(0.93 1)" text-anchor="middle" font-size="13.5">27</text>
<text transform="translate(414.20 545.70) scale(0.93 1)" text-anchor="middle" font-size="13.5">28</text>
<text transform="translate(457.10 545.70) scale(0.93 1)" text-anchor="middle" font-size="13.5">29</text>
<text transform="translate(500.00 545.70) scale(0.93 1)" text-anchor="middle" font-size="13.5">30</text>
<text transform="translate(67.00 435.20) scale(0.93 1)" text-anchor="end" font-size="13.5">10</text>
<text transform="translate(67.00 471.20) scale(0.93 1)" text-anchor="end" font-size="13.5">5</text>
<text transform="translate(67.00 506.20) scale(0.93 1)" text-anchor="end" font-size="13.5">0</text>
<text transform="translate(209.40 563.00) scale(0.965 1)" font-size="13.5">AHA 5001d1</text>
<text transform="translate(344.80 563.50) scale(1.0 1)" font-size="13.8" letter-spacing="0.9">[s]</text>
<text transform="translate(46.3 480.5) rotate(-90)" text-anchor="middle" font-size="13.8">[mV]</text>
<rect x="71" y="580" width="429" height="101" fill="#fefbfe"/>
<g clip-path="url(#c3)" fill="none" stroke-width="1.25" stroke-linejoin="round">
<polyline points="71.0,616.7 72.0,616.5 73.0,616.4 74.0,617.2 75.0,616.9 76.0,617.0 77.0,616.8 78.0,616.6 79.0,617.0 80.0,616.8 81.0,617.0 82.0,616.9 83.0,617.1 84.0,616.6 85.0,616.3 86.0,616.4 87.0,617.1 87.4,617.0 87.9,592.0 88.7,619.7 89.0,617.8 89.0,617.6 90.0,618.4 91.0,618.2 92.0,618.9 93.0,617.6 94.0,617.9 95.0,617.4 96.0,616.5 97.0,616.9 98.0,616.9 99.0,616.2 100.0,616.8 101.0,616.2 102.0,617.0 103.0,616.8 104.0,617.1 105.0,616.1 106.0,616.4 107.0,616.7 108.0,616.6 109.0,616.2 110.0,616.9 111.0,616.9 112.0,616.3 113.0,616.1 114.0,616.7 115.0,616.4 116.0,616.6 117.0,616.5 118.0,616.4 119.0,616.0 120.0,616.2 120.8,616.7 121.3,592.0 122.1,619.4 122.4,617.4 123.0,617.7 124.0,618.5 125.0,618.4 126.0,618.5 127.0,617.6 128.0,616.8 129.0,616.2 130.0,616.0 131.0,615.9 132.0,616.7 133.0,616.7 134.0,616.6 135.0,615.9 136.0,616.5 137.0,615.9 138.0,616.7 139.0,616.5 140.0,616.6 141.0,616.4 142.0,616.2 143.0,616.6 144.0,616.7 145.0,616.0 146.0,616.2 147.0,616.5 148.0,616.4 149.0,616.1 150.0,616.2 151.0,616.7 152.0,616.0 153.0,615.9 154.0,616.5 154.6,616.5 155.1,592.0 155.9,619.2 156.2,617.1 157.0,617.4 158.0,618.5 159.0,618.0 160.0,618.1 161.0,617.4 162.0,616.8 163.0,616.0 164.0,615.8 165.0,615.6 166.0,615.8 167.0,616.3 168.0,615.6 169.0,615.8 170.0,616.1 171.0,615.7 172.0,615.9 173.0,615.8 174.0,616.2 175.0,615.6 176.0,616.6 177.0,616.1 178.0,616.2 179.0,616.1 180.0,616.0 181.0,616.5 182.0,616.3 183.0,616.2 184.0,615.4 185.0,615.9 186.0,616.3 187.0,616.1 187.4,616.0 187.9,592.0 188.7,618.7 189.0,616.8 189.0,616.6 190.0,616.9 191.0,617.8 192.0,617.8 193.0,616.5 194.0,616.4 195.0,616.0 196.0,615.4 197.0,615.6 198.0,615.8 199.0,615.7 200.0,615.1 201.0,614.9 202.0,615.6 203.0,615.3 204.0,615.5 205.0,615.5 206.0,614.8 207.0,615.1 208.0,614.8 209.0,615.3 210.0,615.1 211.0,614.6 212.0,614.8 213.0,614.9 214.0,614.5 215.0,614.4 216.0,614.7 217.0,614.2 218.0,614.6 219.0,615.1 219.9,614.8 220.4,591.0 221.2,617.5 221.5,615.5 222.0,616.1 223.0,616.5 224.0,616.6 225.0,615.6 226.0,615.8 227.0,614.6 228.0,614.8 229.0,614.1 230.0,614.1 231.0,613.8 232.0,614.5 233.0,613.8 234.0,614.4 235.0,614.0 236.0,613.6 237.0,614.2 238.0,614.0 239.0,613.5 240.0,614.3 241.0,613.8 242.0,613.5 243.0,614.3 244.0,614.2 245.0,613.9 246.0,613.7 247.0,614.0 248.0,614.1 249.0,614.2 250.0,614.0 251.0,614.1 252.0,614.5 252.1,614.3 252.6,588.0 253.4,617.0 253.7,615.0 254.0,614.8 255.0,615.7 256.0,616.5 257.0,616.6 258.0,616.4 259.0,615.7 259.0,615.5 263.0,614.5 265.0,610.0 266.5,600.9 268.0,606.0 270.0,614.0 273.5,620.8 276.5,614.0 279.4,609.8 282.0,611.5 286.0,614.5 292.0,616.1 292.0,615.8 293.0,615.7 294.0,615.5 295.0,616.3 296.0,615.9 297.0,616.0 298.0,616.4 299.0,616.0 300.0,615.7 301.0,616.2 302.0,616.1 303.0,615.8 304.0,616.3 305.0,616.5 306.0,615.9 307.0,616.5 308.0,616.5 309.0,616.2 310.0,615.9 311.0,616.4 312.0,616.1 313.0,616.1 314.0,616.7 315.0,616.2 315.9,616.7 316.4,592.0 317.2,619.4 317.5,617.4 318.0,618.2 319.0,618.1 320.0,618.4 321.0,618.3 322.0,618.0 323.0,616.7 324.0,617.0 325.0,616.4 326.0,617.1 327.0,616.6 328.0,617.2 329.0,616.7 330.0,616.9 331.0,616.3 332.0,616.5 333.0,616.6 334.0,616.7 335.0,616.5 336.0,616.8 337.0,616.5 338.0,617.0 339.0,617.5 340.0,617.4 341.0,616.7 342.0,616.7 343.0,616.0 344.0,615.5 345.0,614.9 346.0,614.0 347.0,614.5 348.0,614.1 349.0,613.7 349.5,613.3 350.0,591.0 350.8,615.8 351.1,613.8 352.0,614.8 353.0,615.2 354.0,615.0 355.0,613.8 356.0,614.2 357.0,613.3 358.0,612.9 359.0,612.8 360.0,612.6 361.0,612.3 362.0,612.9 363.0,612.9 364.0,612.4 365.0,613.2 366.0,613.2 367.0,613.2 368.0,612.8 369.0,612.7 370.0,612.8 371.0,612.7 372.0,613.3 373.0,613.2 374.0,613.2 375.0,612.8 376.0,612.8 377.0,613.0 378.0,612.6 379.0,612.5 380.0,613.3 381.0,612.6 382.0,612.7 382.5,613.1 383.0,590.0 383.8,615.8 384.1,613.8 385.0,614.3 386.0,614.4 387.0,615.1 388.0,613.9 389.0,614.0 390.0,613.0 391.0,613.3 392.0,613.2 393.0,613.4 394.0,612.6 395.0,613.5 396.0,612.7 397.0,613.0 398.0,612.6 399.0,613.2 400.0,612.8 401.0,613.3 402.0,613.8 403.0,613.7 404.0,613.6 405.0,613.0 406.0,614.0 407.0,613.4 408.0,614.1 409.0,613.3 410.0,613.5 411.0,614.2 412.0,614.0 413.0,613.5 414.0,613.8 415.0,614.1 415.8,614.3 416.3,589.5 417.1,617.2 417.4,615.4 418.0,615.4 419.0,616.6 420.0,616.8 421.0,616.5 422.0,616.1 423.0,615.5 424.0,615.3 424.0,614.5 427.5,612.0 429.4,607.5 431.5,613.0 434.7,620.2 438.0,616.0 442.0,611.7 445.0,614.5 448.5,617.0 449.0,617.6 450.0,617.6 451.0,617.8 452.0,617.8 453.0,618.0 454.0,618.6 455.0,618.9 456.0,618.9 457.0,620.1 458.0,619.4 459.0,620.1 460.0,619.9 461.0,620.1 462.0,620.6 463.0,620.7 464.0,620.1 465.0,620.4 466.0,620.6 467.0,620.0 468.0,620.1 469.0,620.1 470.0,620.6 471.0,620.0 472.0,620.6 473.0,619.9 474.0,620.4 475.0,620.3 476.0,619.7 477.0,620.0 478.0,620.6 479.0,620.1 480.0,619.8 480.8,620.5 481.3,593.8 482.1,623.2 482.4,621.2 483.0,621.5 484.0,622.0 485.0,622.7 486.0,621.9 487.0,620.9 488.0,620.1 489.0,620.0 490.0,619.1 491.0,619.1 492.0,619.2 493.0,618.3 494.0,618.1 495.0,617.8 496.0,618.3 497.0,618.3 498.0,617.9 499.0,617.7 500.0,616.9 501.0,617.2" stroke="#18d418"/><polyline points="71.0,637.9 71.5,636.9 72.0,637.0 72.5,636.8 73.0,637.3 73.5,637.0 74.0,637.2 74.5,635.9 75.0,636.2 75.5,635.5 76.0,635.5 76.5,635.7 77.0,634.9 77.5,635.0 78.0,635.4 78.5,635.1 79.0,634.5 79.5,634.8 80.0,634.9 80.5,633.6 81.0,634.5 81.5,634.2 82.0,633.6 82.5,633.1 83.0,634.0 83.5,633.0 84.0,632.5 84.5,632.3 85.0,633.2 85.5,632.9 86.0,633.1 86.5,633.1 87.0,632.8 87.4,632.8 87.9,614.0 88.7,636.8 89.0,633.3 89.0,632.8 89.5,633.0 90.0,633.3 90.5,633.0 91.0,633.1 91.5,632.3 92.0,632.5 92.5,632.6 93.0,632.4 93.5,632.6 94.0,632.4 94.5,632.7 95.0,633.2 95.5,632.8 96.0,632.8 96.5,632.6 97.0,632.7 97.5,633.6 98.0,633.3 98.5,633.2 99.0,632.7 99.5,633.4 100.0,632.7 100.5,633.0 101.0,633.8 101.5,633.4 102.0,633.3 102.5,633.4 103.0,633.7 103.5,633.6 104.0,632.9 104.5,632.6 105.0,633.0 105.5,633.0 106.0,632.9 106.5,633.9 107.0,633.8 107.5,633.1 108.0,633.6 108.5,633.2 109.0,633.9 109.5,633.3 110.0,633.1 110.5,633.1 111.0,633.5 111.5,633.1 112.0,633.6 112.5,634.0 113.0,633.4 113.5,633.1 114.0,634.2 114.5,633.6 115.0,633.0 115.5,633.0 116.0,633.1 116.5,633.8 117.0,634.0 117.5,633.5 118.0,633.1 118.5,633.5 119.0,634.3 119.5,633.7 120.0,634.3 120.5,634.2 120.8,633.7 121.3,614.0 122.1,637.6 122.4,633.6 122.5,633.6 123.0,633.2 123.5,633.7 124.0,633.0 124.5,633.4 125.0,633.4 125.5,634.0 126.0,633.9 126.5,633.1 127.0,633.4 127.5,632.9 128.0,633.9 128.5,633.8 129.0,633.0 129.5,633.4 130.0,633.3 130.5,632.7 131.0,633.5 131.5,633.2 132.0,633.5 132.5,633.1 133.0,632.4 133.5,632.8 134.0,632.4 134.5,633.6 135.0,633.5 135.5,633.4 136.0,632.6 136.5,632.3 137.0,633.4 137.5,633.4 138.0,632.2 138.5,632.8 139.0,632.2 139.5,633.1 140.0,633.1 140.5,632.2 141.0,632.6 141.5,632.7 142.0,632.3 142.5,633.1 143.0,632.4 143.5,632.1 144.0,632.6 144.5,632.8 145.0,632.0 145.5,632.2 146.0,633.1 146.5,632.6 147.0,632.3 147.5,632.3 148.0,631.8 148.5,631.9 149.0,632.0 149.5,632.3 150.0,631.8 150.5,631.8 151.0,631.6 151.5,632.3 152.0,631.7 152.5,632.6 153.0,632.5 153.5,631.4 154.0,631.6 154.5,632.2 154.6,632.0 155.1,614.0 155.9,635.9 156.2,631.9 156.5,632.0 157.0,631.8 157.5,632.2 158.0,632.2 158.5,631.4 159.0,631.2 159.5,631.6 160.0,631.6 160.5,631.6 161.0,632.0 161.5,631.9 162.0,632.3 162.5,631.0 163.0,631.4 163.5,631.3 164.0,632.0 164.5,631.1 165.0,631.0 165.5,631.4 166.0,631.3 166.5,631.1 167.0,631.0 167.5,631.9 168.0,631.2 168.5,631.8 169.0,631.3 169.5,630.6 170.0,631.9 170.5,631.6 171.0,631.8 171.5,631.7 172.0,631.6 172.5,630.6 173.0,631.0 173.5,630.6 174.0,630.9 174.5,630.4 175.0,630.8 175.5,631.6 176.0,630.6 176.5,631.3 177.0,630.8 177.5,630.7 178.0,631.4 178.5,631.4 179.0,630.8 179.5,631.0 180.0,630.2 180.5,630.4 181.0,631.3 181.5,630.8 182.0,630.8 182.5,631.1 183.0,630.1 183.5,630.9 184.0,630.8 184.5,631.2 185.0,630.3 185.5,631.4 186.0,630.2 186.5,630.4 187.0,630.9 187.4,630.8 187.9,614.0 188.7,634.8 189.0,631.3 189.0,630.8 189.5,630.5 190.0,631.0 190.5,631.0 191.0,630.7 191.5,631.0 192.0,630.9 192.5,631.4 193.0,630.5 193.5,631.2 194.0,630.5 194.5,630.7 195.0,631.1 195.5,630.6 196.0,630.7 196.5,631.2 197.0,630.3 197.5,630.9 198.0,631.6 198.5,631.6 199.0,630.4 199.5,630.6 200.0,630.6 200.5,631.5 201.0,631.5 201.5,631.5 202.0,630.8 202.5,630.5 203.0,631.4 203.5,631.3 204.0,631.2 204.5,631.7 205.0,631.2 205.5,630.4 206.0,631.5 206.5,630.8 207.0,631.3 207.5,631.6 208.0,630.6 208.5,630.5 209.0,630.5 209.5,631.1 210.0,630.8 210.5,631.2 211.0,631.4 211.5,630.7 212.0,631.3 212.5,630.8 213.0,631.1 213.5,631.7 214.0,631.6 214.5,630.6 215.0,631.0 215.5,630.8 216.0,630.5 216.5,631.5 217.0,631.3 217.5,630.8 218.0,631.5 218.5,631.3 219.0,631.1 219.5,630.5 219.9,631.2 220.4,614.0 221.2,635.2 221.5,631.3 221.5,631.2 222.0,631.7 222.5,631.3 223.0,630.8 223.5,630.7 224.0,631.0 224.5,631.8 225.0,631.7 225.5,631.8 226.0,631.8 226.5,630.9 227.0,630.9 227.5,630.8 228.0,631.7 228.5,631.8 229.0,631.2 229.5,631.5 230.0,630.9 230.5,631.9 231.0,631.8 231.5,632.0 232.0,631.8 232.5,631.9 233.0,630.7 233.5,631.7 234.0,631.1 234.5,632.0 235.0,631.8 235.5,631.9 236.0,631.8 236.5,631.1 237.0,631.8 237.5,630.9 238.0,631.9 238.5,631.9 239.0,631.1 239.5,631.9 240.0,631.4 240.5,631.2 241.0,631.9 241.5,631.1 242.0,630.8 242.5,631.1 243.0,631.3 243.5,632.0 244.0,632.1 244.5,631.2 245.0,631.7 245.5,631.4 246.0,632.2 246.5,631.6 247.0,632.1 247.5,631.0 248.0,632.2 248.5,631.1 249.0,632.2 249.5,631.3 250.0,631.0 250.5,631.5 251.0,631.9 251.5,631.3 252.0,631.7 252.1,631.6 252.6,614.0 253.4,635.6 253.7,631.6 254.0,631.3 254.5,631.9 255.0,631.0 255.5,632.2 256.0,631.7 256.5,632.0 257.0,632.0 257.5,631.9 258.0,631.5 258.5,631.1 259.0,631.9 259.5,631.5 260.0,631.4 261.0,632.1 261.0,632.0 264.5,630.0 266.8,621.8 268.3,628.0 272.5,632.7 276.0,628.5 279.4,626.7 285.0,627.5 290.0,628.5 300.0,629.7 301.0,629.3 302.0,630.0 303.0,630.5 304.0,630.1 305.0,631.0 306.0,630.9 307.0,630.8 308.0,631.5 309.0,630.8 310.0,632.0 311.0,632.2 312.0,631.4 313.0,631.9 314.0,631.7 315.0,632.9 315.9,632.4 316.4,612.0 317.3,612.0 317.7,636.4 318.4,632.7 319.0,633.2 320.0,632.8 321.0,633.4 322.0,633.3 323.0,633.9 324.0,633.4 325.0,634.0 326.0,634.1 327.0,633.8 328.0,634.1 329.0,633.9 330.0,634.4 331.0,634.1 332.0,634.6 333.0,634.4 334.0,634.1 335.0,633.9 336.0,633.9 337.0,634.4 338.0,634.6 339.0,634.4 340.0,634.5 341.0,634.1 342.0,633.9 343.0,634.2 344.0,634.2 345.0,634.3 346.0,634.6 347.0,634.1 348.0,634.3 349.0,635.0 349.5,634.7 350.0,613.0 350.8,638.7 351.1,634.8 352.0,634.7 353.0,634.9 354.0,634.8 355.0,634.5 356.0,634.8 357.0,635.5 358.0,635.1 359.0,635.3 360.0,635.6 361.0,635.5 362.0,635.0 363.0,634.5 364.0,635.0 365.0,635.6 366.0,635.8 367.0,636.0 368.0,635.3 369.0,635.8 370.0,635.5 371.0,635.6 372.0,635.1 373.0,635.2 374.0,635.5 375.0,635.0 376.0,635.5 377.0,636.0 378.0,635.6 379.0,635.3 380.0,635.8 381.0,635.4 382.0,636.1 382.5,635.9 383.0,614.0 383.8,639.9 384.1,636.0 385.0,636.1 386.0,634.9 387.0,635.3 388.0,634.2 389.0,634.3 390.0,633.3 391.0,633.3 392.0,632.7 393.0,632.4 394.0,632.6 395.0,631.6 396.0,631.7 397.0,631.4 398.0,630.2 399.0,629.5 400.0,629.0 401.0,629.3 402.0,629.5 403.0,628.2 404.0,628.2 405.0,627.9 406.0,627.3 407.0,627.1 408.0,626.9 409.0,625.5 410.0,624.8 411.0,624.6 412.0,624.1 413.0,624.7 414.0,624.7 415.0,624.4 415.8,624.9 416.3,609.6 417.2,609.6 417.6,629.0 418.3,625.3 419.0,625.5 420.0,625.8 421.0,624.9 422.0,625.7 423.0,625.8 424.0,624.5 425.0,624.3 425.0,625.5 428.0,622.0 429.4,618.0 431.0,624.0 433.0,625.5 438.0,626.0 442.0,622.3 444.0,625.0 446.4,627.6 450.0,622.3 451.0,622.7 452.0,622.6 453.0,622.2 454.0,622.6 455.0,622.9 456.0,622.0 457.0,622.7 458.0,622.4 459.0,622.3 460.0,622.2 461.0,622.6 462.0,622.0 463.0,622.8 464.0,622.7 465.0,621.7 466.0,622.8 467.0,622.0 468.0,622.3 469.0,622.4 470.0,622.1 471.0,621.7 472.0,622.8 473.0,621.9 474.0,621.9 475.0,622.7 476.0,622.1 477.0,622.8 478.0,622.6 479.0,623.2 480.0,624.1 480.8,625.7 481.3,612.0 482.1,630.3 482.4,627.6 483.0,628.7 484.0,629.6 485.0,631.1 486.0,630.9 487.0,630.6 488.0,630.2 489.0,630.4 490.0,629.3 491.0,629.4 492.0,630.2 493.0,629.9 494.0,630.4 495.0,630.5 496.0,630.7 497.0,630.8 498.0,631.4 499.0,631.0 500.0,631.7 501.0,631.6" stroke="#0000e8"/><polyline points="71.0,654.2 72.0,654.8 73.0,654.3 74.0,654.6 75.0,654.8 76.0,654.9 77.0,654.6 78.0,654.6 79.0,654.2 80.0,654.5 81.0,654.5 82.0,654.9 83.0,654.6 84.0,654.8 85.0,654.5 86.0,654.3 87.0,655.0 87.4,654.7 87.9,633.7 88.7,658.6 89.0,655.2 89.0,655.3 90.0,655.5 91.0,656.1 92.0,655.7 93.0,655.4 94.0,654.9 95.0,654.6 96.0,654.7 97.0,654.5 98.0,654.2 99.0,654.2 100.0,655.0 101.0,654.9 102.0,654.4 103.0,654.9 104.0,654.6 105.0,654.2 106.0,654.9 107.0,654.7 108.0,655.0 109.0,654.8 110.0,654.2 111.0,654.7 112.0,654.9 113.0,655.0 114.0,654.4 115.0,654.6 116.0,654.8 117.0,654.3 118.0,654.9 119.0,654.9 120.0,654.2 120.8,654.7 121.3,633.7 122.1,658.6 122.4,655.3 123.0,655.3 124.0,656.2 125.0,656.4 126.0,655.4 127.0,654.5 128.0,654.7 129.0,654.9 130.0,655.0 131.0,654.8 132.0,654.2 133.0,655.0 134.0,654.7 135.0,654.2 136.0,654.3 137.0,654.2 138.0,654.7 139.0,654.3 140.0,654.9 141.0,654.2 142.0,654.6 143.0,654.5 144.0,654.2 145.0,654.2 146.0,655.0 147.0,655.0 148.0,654.3 149.0,654.8 150.0,655.0 151.0,655.0 152.0,654.9 153.0,654.5 154.0,654.8 154.6,654.7 155.1,633.7 155.9,658.6 156.2,655.3 157.0,655.9 158.0,656.4 159.0,656.2 160.0,655.2 161.0,655.0 162.0,654.3 163.0,654.3 164.0,655.0 165.0,654.5 166.0,654.8 167.0,654.7 168.0,654.4 169.0,654.7 170.0,655.0 171.0,654.4 172.0,654.5 173.0,654.3 174.0,654.3 175.0,654.9 176.0,654.8 177.0,655.0 178.0,654.8 179.0,655.0 180.0,654.3 181.0,654.3 182.0,654.3 183.0,654.5 184.0,655.0 185.0,654.4 186.0,654.6 187.0,654.3 187.4,654.7 187.9,633.7 188.7,658.6 189.0,655.3 189.0,655.3 190.0,656.0 191.0,656.1 192.0,656.1 193.0,655.5 194.0,655.2 195.0,654.7 196.0,654.4 197.0,654.3 198.0,654.8 199.0,654.3 200.0,654.2 201.0,654.8 202.0,654.3 203.0,654.7 204.0,654.3 205.0,654.5 206.0,654.2 207.0,654.5 208.0,654.4 209.0,654.4 210.0,654.3 211.0,654.7 212.0,654.8 213.0,654.3 214.0,654.2 215.0,654.4 216.0,654.8 217.0,654.4 218.0,654.7 219.0,654.2 219.9,654.7 220.4,633.7 221.2,658.6 221.5,655.3 222.0,655.3 223.0,656.3 224.0,656.0 225.0,655.6 226.0,654.7 227.0,654.8 228.0,654.4 229.0,654.6 230.0,654.5 231.0,655.0 232.0,654.8 233.0,654.6 234.0,654.9 235.0,654.7 236.0,654.8 237.0,654.6 238.0,654.7 239.0,654.3 240.0,655.0 241.0,654.7 242.0,654.9 243.0,654.7 244.0,654.2 245.0,654.2 246.0,654.9 247.0,654.8 248.0,655.0 249.0,655.0 250.0,654.4 251.0,655.1 252.0,654.8 252.1,654.7 252.6,633.0 253.4,658.6 253.7,655.3 254.0,655.5 255.0,655.8 256.0,656.0 257.0,655.5 257.0,654.6 261.0,653.0 264.0,650.0 266.9,645.6 268.2,651.0 270.5,656.6 274.0,653.0 278.4,650.6 282.0,651.5 286.0,654.6 287.0,655.0 288.0,654.4 289.0,654.6 290.0,655.0 291.0,654.3 292.0,654.4 293.0,654.9 294.0,654.9 295.0,654.6 296.0,654.3 297.0,654.9 298.0,654.4 299.0,654.8 300.0,654.4 301.0,654.3 302.0,654.8 303.0,654.5 304.0,654.5 305.0,654.5 306.0,654.6 307.0,654.6 308.0,654.7 309.0,654.2 310.0,654.8 311.0,654.6 312.0,654.9 313.0,654.7 314.0,655.3 315.0,655.1 315.9,655.7 316.4,637.7 317.6,637.7 318.0,659.7 318.9,657.7 319.0,657.8 320.0,658.4 321.0,657.1 322.0,656.2 323.0,655.9 324.0,655.4 325.0,656.0 326.0,655.7 327.0,654.9 328.0,655.1 329.0,654.5 330.0,654.9 331.0,654.5 332.0,654.2 333.0,654.7 334.0,654.3 335.0,655.0 336.0,655.0 337.0,654.8 338.0,654.4 339.0,654.9 340.0,654.3 341.0,654.3 342.0,654.5 343.0,654.3 344.0,655.0 345.0,654.9 346.0,655.0 347.0,654.9 348.0,654.5 349.0,654.6 349.5,654.9 350.0,637.7 350.8,658.8 351.1,655.4 352.0,656.1 353.0,656.1 354.0,656.3 355.0,655.3 356.0,655.1 357.0,655.2 358.0,655.0 359.0,654.8 360.0,654.9 361.0,654.6 362.0,654.8 363.0,655.2 364.0,654.9 365.0,654.4 366.0,655.2 367.0,654.6 368.0,654.5 369.0,655.0 370.0,655.2 371.0,654.6 372.0,654.9 373.0,654.9 374.0,654.6 375.0,655.1 376.0,654.7 377.0,655.1 378.0,655.0 379.0,655.0 380.0,654.8 381.0,655.8 382.0,655.8 382.5,656.6 383.0,637.7 383.8,660.8 384.1,658.1 385.0,658.7 386.0,659.6 387.0,659.1 388.0,657.4 389.0,656.4 390.0,655.9 391.0,655.4 392.0,654.3 393.0,654.1 394.0,653.4 395.0,653.0 396.0,652.3 397.0,651.8 398.0,650.8 399.0,651.2 400.0,650.7 401.0,650.7 402.0,650.8 403.0,650.5 404.0,651.1 405.0,650.5 406.0,651.0 407.0,650.5 408.0,650.8 409.0,650.7 410.0,651.3 411.0,650.9 412.0,651.3 413.0,651.6 414.0,651.7 415.0,652.5 415.8,652.7 416.3,637.1 417.5,637.1 417.9,656.8 418.8,655.0 419.0,655.0 420.0,655.6 421.0,654.5 422.0,654.0 423.0,653.9 424.0,654.1 424.0,654.0 427.0,652.5 429.4,649.8 431.0,653.5 434.0,654.0 438.0,653.5 442.0,651.9 445.0,654.0 448.5,654.0 449.0,653.9 450.0,653.9 451.0,654.4 452.0,653.6 453.0,654.2 454.0,653.7 455.0,653.7 456.0,653.9 457.0,654.1 458.0,653.8 459.0,654.0 460.0,654.0 461.0,654.4 462.0,654.1 463.0,653.8 464.0,654.1 465.0,654.1 466.0,653.8 467.0,654.2 468.0,653.6 469.0,654.4 470.0,654.3 471.0,653.6 472.0,654.2 473.0,653.7 474.0,654.4 475.0,654.0 476.0,654.2 477.0,653.8 478.0,654.1 479.0,654.4 480.0,656.0 480.8,656.5 481.3,643.5 482.5,643.5 482.9,660.8 483.8,660.4 484.0,660.6 485.0,660.9 486.0,660.2 487.0,659.6 488.0,659.2 489.0,659.0 490.0,658.2 491.0,658.5 492.0,657.8 493.0,658.1 494.0,657.3 495.0,657.1 496.0,656.7 497.0,656.2 498.0,656.6 499.0,656.0 500.0,655.9 501.0,655.4" stroke="#383838" stroke-width="1.1"/>
</g>
<path d="M71.5 681.7V580.5H500.6" fill="none" stroke="#111" stroke-width="1"/>
<path d="M500.0 580.0V681.7H71.0" fill="none" stroke="#222" stroke-width="1.4"/>
<path d="M114.5 681.5v-4M114.5 580.5v4M157.5 681.5v-4M157.5 580.5v4M200.5 681.5v-4M200.5 580.5v4M243.5 681.5v-4M243.5 580.5v4M286.5 681.5v-4M286.5 580.5v4M328.5 681.5v-4M328.5 580.5v4M371.5 681.5v-4M371.5 580.5v4M414.5 681.5v-4M414.5 580.5v4M457.5 681.5v-4M457.5 580.5v4M71.5 587.5h4M500.0 587.5h-4M71.5 621.5h4M500.0 621.5h-4M71.5 655.5h4M500.0 655.5h-4" stroke="#000" stroke-width="1" fill="none"/>
<g fill="none"><path d="M84.3 633.6h7.2M87.9 630.0v7.2M85.4 631.1l5.0 5.0M85.4 636.1l5.0 -5.0M117.7 633.6h7.2M121.3 630.0v7.2M118.8 631.1l5.0 5.0M118.8 636.1l5.0 -5.0M151.5 633.6h7.2M155.1 630.0v7.2M152.6 631.1l5.0 5.0M152.6 636.1l5.0 -5.0M184.3 634.1h7.2M187.9 630.5v7.2M185.4 631.6l5.0 5.0M185.4 636.6l5.0 -5.0M216.8 633.7h7.2M220.4 630.1v7.2M217.9 631.2l5.0 5.0M217.9 636.2l5.0 -5.0M249.0 632.7h7.2M252.6 629.1v7.2M250.1 630.2l5.0 5.0M250.1 635.2l5.0 -5.0M312.8 632.7h7.2M316.4 629.1v7.2M313.9 630.2l5.0 5.0M313.9 635.2l5.0 -5.0M346.4 633.7h7.2M350.0 630.1v7.2M347.5 631.2l5.0 5.0M347.5 636.2l5.0 -5.0M379.4 634.7h7.2M383.0 631.1v7.2M380.5 632.2l5.0 5.0M380.5 637.2l5.0 -5.0M412.7 631.8h7.2M416.3 628.2v7.2M413.8 629.3l5.0 5.0M413.8 634.3l5.0 -5.0M477.7 635.4h7.2M481.3 631.8v7.2M478.8 632.9l5.0 5.0M478.8 637.9l5.0 -5.0" stroke="#ff0000" stroke-width="1.1" opacity="0.9"/><circle cx="266.9" cy="645.6" r="4.2" stroke="#ff0000" stroke-width="1"/></g>
<text transform="translate(71.00 697.70) scale(0.93 1)" text-anchor="middle" font-size="13.5">250</text>
<text transform="translate(113.90 697.70) scale(0.93 1)" text-anchor="middle" font-size="13.5">251</text>
<text transform="translate(156.80 697.70) scale(0.93 1)" text-anchor="middle" font-size="13.5">252</text>
<text transform="translate(199.70 697.70) scale(0.93 1)" text-anchor="middle" font-size="13.5">253</text>
<text transform="translate(242.60 697.70) scale(0.93 1)" text-anchor="middle" font-size="13.5">254</text>
<text transform="translate(285.50 697.70) scale(0.93 1)" text-anchor="middle" font-size="13.5">255</text>
<text transform="translate(328.40 697.70) scale(0.93 1)" text-anchor="middle" font-size="13.5">256</text>
<text transform="translate(371.30 697.70) scale(0.93 1)" text-anchor="middle" font-size="13.5">257</text>
<text transform="translate(414.20 697.70) scale(0.93 1)" text-anchor="middle" font-size="13.5">258</text>
<text transform="translate(457.10 697.70) scale(0.93 1)" text-anchor="middle" font-size="13.5">259</text>
<text transform="translate(500.00 697.70) scale(0.93 1)" text-anchor="middle" font-size="13.5">260</text>
<text transform="translate(67.00 592.20) scale(0.93 1)" text-anchor="end" font-size="13.5">10</text>
<text transform="translate(67.00 626.20) scale(0.93 1)" text-anchor="end" font-size="13.5">5</text>
<text transform="translate(67.00 660.20) scale(0.93 1)" text-anchor="end" font-size="13.5">0</text>
<text transform="translate(209.40 715.00) scale(0.965 1)" font-size="13.5">AHA 5001d1</text>
<text transform="translate(344.80 715.50) scale(1.0 1)" font-size="13.8" letter-spacing="0.9">[s]</text>
<text transform="translate(46.3 632.5) rotate(-90)" text-anchor="middle" font-size="13.8">[mV]</text>
</svg>
</body></html>
